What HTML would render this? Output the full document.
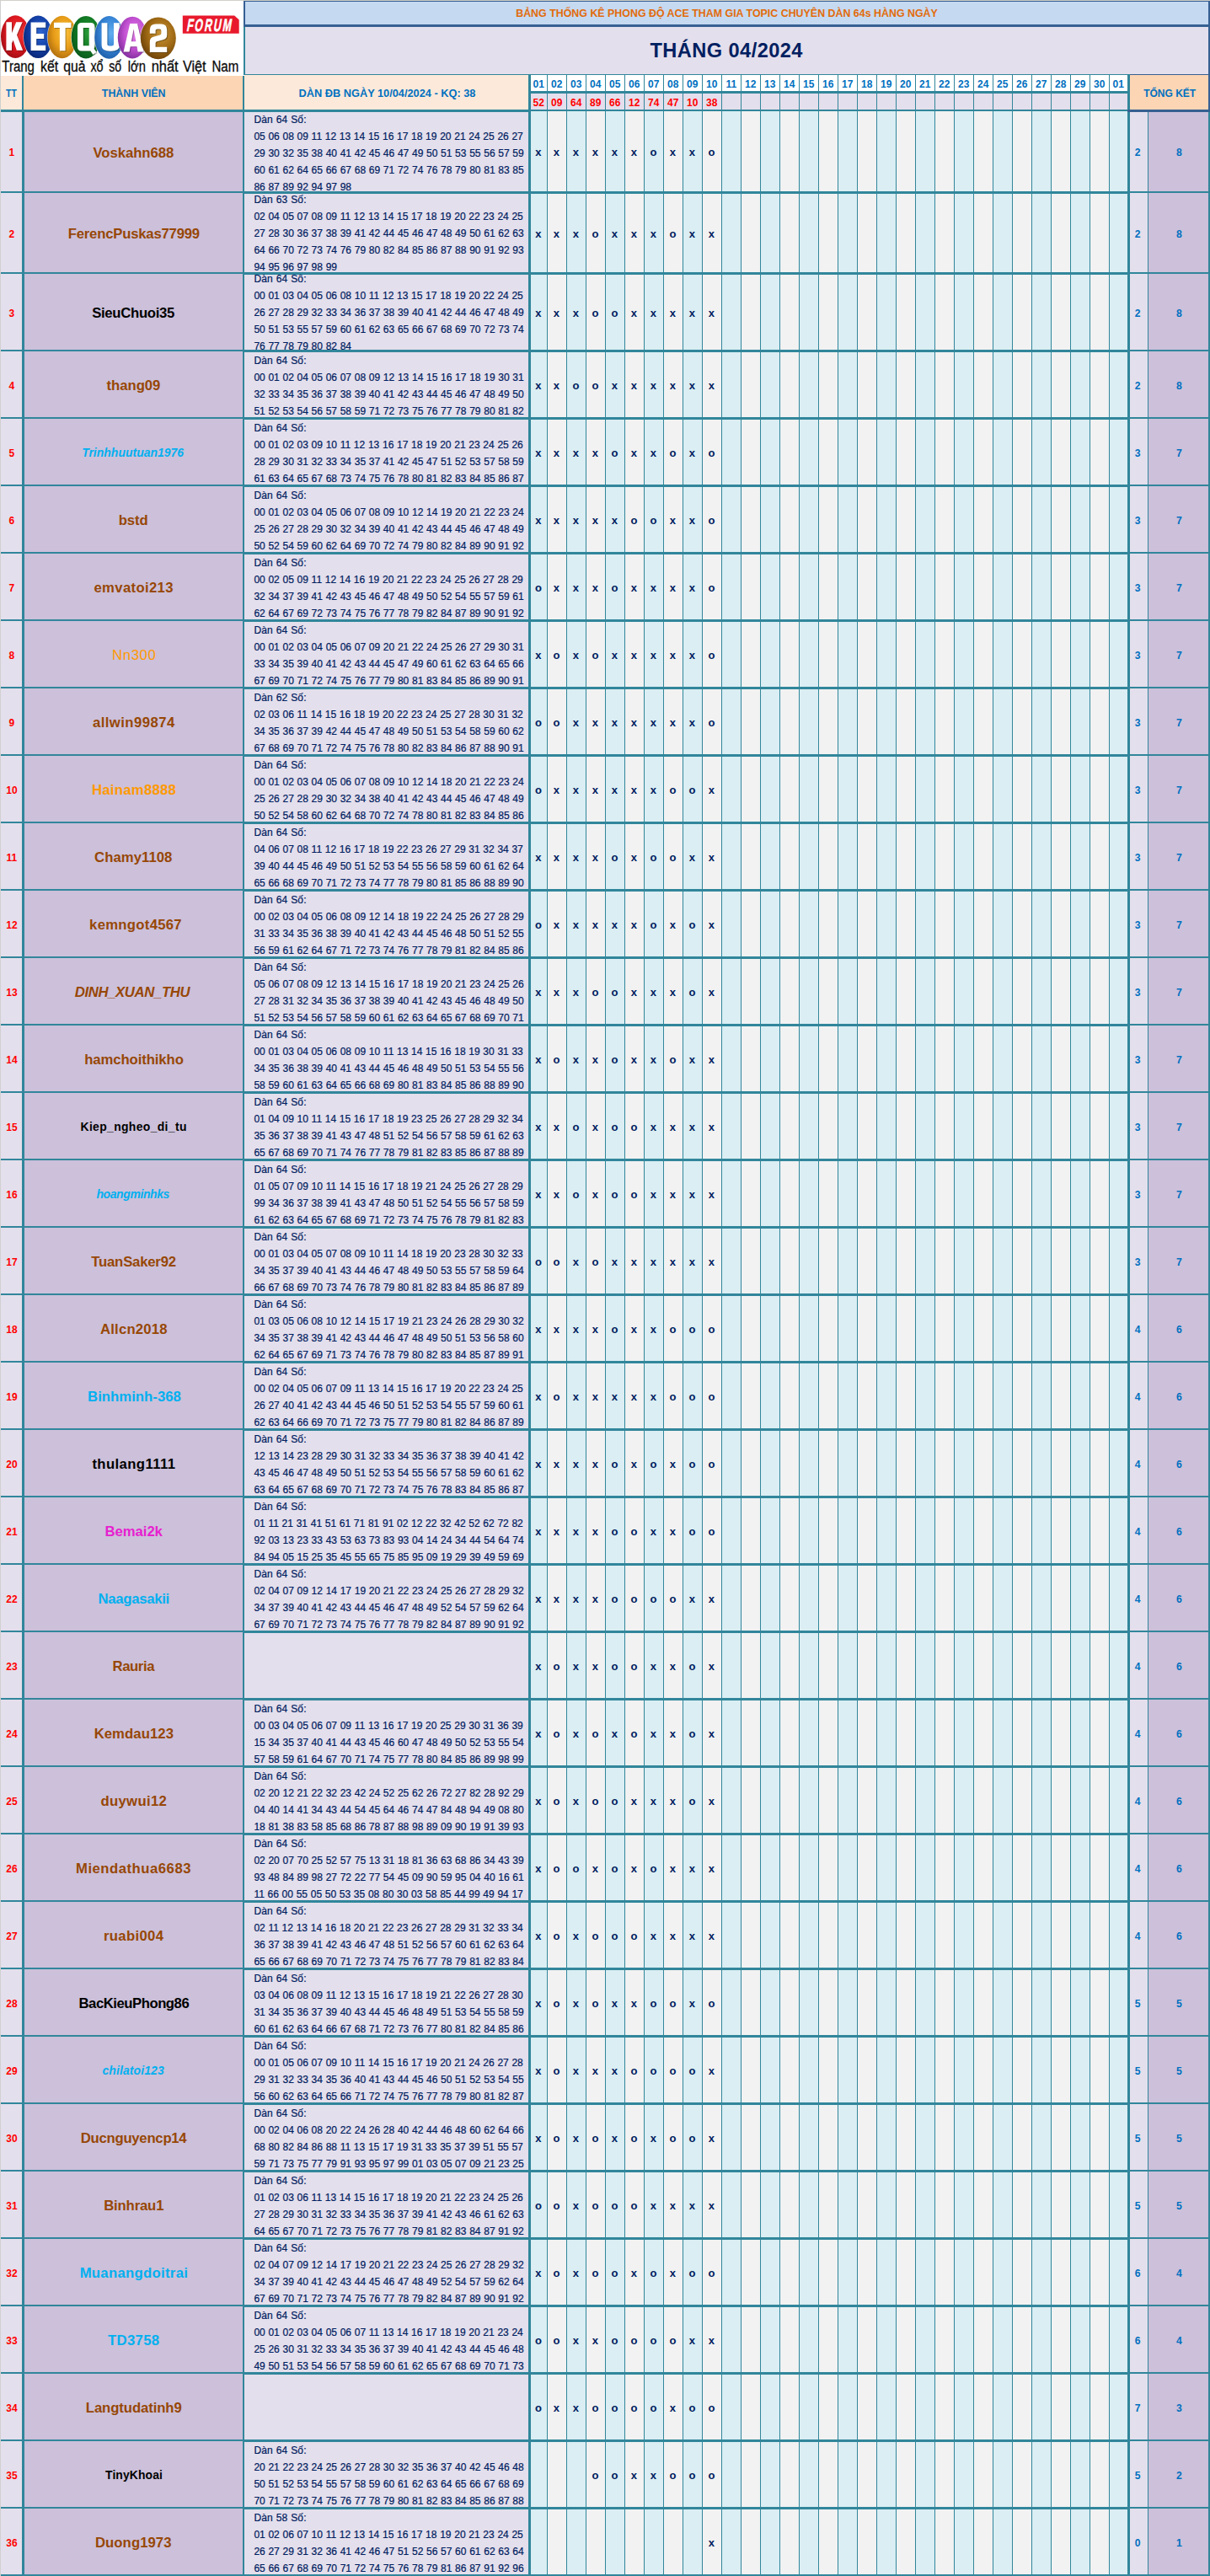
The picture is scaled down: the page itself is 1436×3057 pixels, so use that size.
<!DOCTYPE html><html><head><meta charset="utf-8"><title>Bang thong ke</title><style>

html,body{margin:0;padding:0;background:#fff;}
body{width:1436px;height:3057px;position:relative;overflow:hidden;font-family:"Liberation Sans",sans-serif;}
#pg{position:absolute;left:0;top:0;width:1436px;height:3057px;overflow:hidden;}
#pg div{position:absolute;}
.t{text-align:center;white-space:nowrap;}
.b{font-weight:bold;}
.i{font-style:italic;}
.nums{white-space:pre;text-align:left;font-size:12px;line-height:20px;color:#002060;word-spacing:0.37px;-webkit-text-stroke:0.22px #002060;}
.clip{overflow:hidden;}
.mk{font-weight:bold;font-size:13px;line-height:20px;color:#002060;text-align:center;width:22px;}
.rn{font-weight:bold;font-size:12px;line-height:20px;color:#ff0000;text-align:center;width:25px;left:1px;}
.cnt{font-size:12px;line-height:20px;color:#0070c0;text-align:center;}
svg{position:absolute;}

</style></head><body><div id="pg">
<div style="left:0px;top:0px;width:1px;height:3057px;background:#d0d0d0;"></div>
<div style="left:0px;top:0px;width:1436px;height:1px;background:#d2d0ca;"></div>
<div style="left:291px;top:2px;width:1143px;height:27px;background:#c5d9f1;"></div>
<div style="left:291px;top:32px;width:1143px;height:56px;background:#e4dfec;"></div>
<div style="left:1px;top:90px;width:25px;height:40px;background:#fde9d9;"></div>
<div style="left:28px;top:90px;width:260px;height:40px;background:#fcd5b4;"></div>
<div style="left:290px;top:89px;width:337px;height:41px;background:#fde9d9;"></div>
<div style="left:630px;top:89px;width:708px;height:19px;background:#ffffff;"></div>
<div style="left:630px;top:111px;width:708px;height:19px;background:#e4dfec;"></div>
<div style="left:1341px;top:89px;width:93px;height:41px;background:#fcd5b4;"></div>
<div style="left:1px;top:133px;width:25px;height:2924px;background:#e4dfec;"></div>
<div style="left:29px;top:133px;width:259px;height:2924px;background:#ccc0da;"></div>
<div style="left:290px;top:133px;width:337px;height:2924px;background:#e4dfec;"></div>
<div style="left:630px;top:132px;width:19px;height:2925px;background:#daeef3;"></div>
<div style="left:650px;top:132px;width:22px;height:2925px;background:#f2f2f2;"></div>
<div style="left:673px;top:132px;width:22px;height:2925px;background:#daeef3;"></div>
<div style="left:696px;top:132px;width:22px;height:2925px;background:#f2f2f2;"></div>
<div style="left:719px;top:132px;width:22px;height:2925px;background:#daeef3;"></div>
<div style="left:742px;top:132px;width:22px;height:2925px;background:#f2f2f2;"></div>
<div style="left:765px;top:132px;width:22px;height:2925px;background:#daeef3;"></div>
<div style="left:788px;top:132px;width:22px;height:2925px;background:#f2f2f2;"></div>
<div style="left:811px;top:132px;width:22px;height:2925px;background:#daeef3;"></div>
<div style="left:834px;top:132px;width:22px;height:2925px;background:#f2f2f2;"></div>
<div style="left:857px;top:132px;width:22px;height:2925px;background:#daeef3;"></div>
<div style="left:880px;top:132px;width:22px;height:2925px;background:#f2f2f2;"></div>
<div style="left:903px;top:132px;width:22px;height:2925px;background:#daeef3;"></div>
<div style="left:926px;top:132px;width:22px;height:2925px;background:#f2f2f2;"></div>
<div style="left:949px;top:132px;width:22px;height:2925px;background:#daeef3;"></div>
<div style="left:972px;top:132px;width:22px;height:2925px;background:#f2f2f2;"></div>
<div style="left:995px;top:132px;width:22px;height:2925px;background:#daeef3;"></div>
<div style="left:1018px;top:132px;width:22px;height:2925px;background:#f2f2f2;"></div>
<div style="left:1041px;top:132px;width:22px;height:2925px;background:#daeef3;"></div>
<div style="left:1064px;top:132px;width:22px;height:2925px;background:#f2f2f2;"></div>
<div style="left:1087px;top:132px;width:22px;height:2925px;background:#daeef3;"></div>
<div style="left:1110px;top:132px;width:22px;height:2925px;background:#f2f2f2;"></div>
<div style="left:1133px;top:132px;width:22px;height:2925px;background:#daeef3;"></div>
<div style="left:1156px;top:132px;width:22px;height:2925px;background:#f2f2f2;"></div>
<div style="left:1179px;top:132px;width:22px;height:2925px;background:#daeef3;"></div>
<div style="left:1202px;top:132px;width:22px;height:2925px;background:#f2f2f2;"></div>
<div style="left:1225px;top:132px;width:22px;height:2925px;background:#daeef3;"></div>
<div style="left:1248px;top:132px;width:22px;height:2925px;background:#f2f2f2;"></div>
<div style="left:1271px;top:132px;width:22px;height:2925px;background:#daeef3;"></div>
<div style="left:1294px;top:132px;width:22px;height:2925px;background:#f2f2f2;"></div>
<div style="left:1317px;top:132px;width:21px;height:2925px;background:#daeef3;"></div>
<div style="left:1341px;top:133px;width:21px;height:2924px;background:#e4dfec;"></div>
<div style="left:1363px;top:133px;width:71px;height:2924px;background:#ccc0da;"></div>
<div style="left:26px;top:90px;width:2px;height:43px;background:#31869b;"></div>
<div style="left:26px;top:133px;width:3px;height:2924px;background:#31869b;"></div>
<div style="left:288px;top:90px;width:2px;height:2967px;background:#31869b;"></div>
<div style="left:289px;top:32px;width:2px;height:57px;background:#31869b;"></div>
<div style="left:289px;top:1px;width:2px;height:31px;background:#366092;"></div>
<div style="left:627px;top:88px;width:3px;height:2969px;background:#31869b;"></div>
<div style="left:649px;top:89px;width:1px;height:2968px;background:#31869b;"></div>
<div style="left:672px;top:89px;width:1px;height:2968px;background:#31869b;"></div>
<div style="left:695px;top:89px;width:1px;height:2968px;background:#31869b;"></div>
<div style="left:718px;top:89px;width:1px;height:2968px;background:#31869b;"></div>
<div style="left:741px;top:89px;width:1px;height:2968px;background:#31869b;"></div>
<div style="left:764px;top:89px;width:1px;height:2968px;background:#31869b;"></div>
<div style="left:787px;top:89px;width:1px;height:2968px;background:#31869b;"></div>
<div style="left:810px;top:89px;width:1px;height:2968px;background:#31869b;"></div>
<div style="left:833px;top:89px;width:1px;height:2968px;background:#31869b;"></div>
<div style="left:856px;top:89px;width:1px;height:2968px;background:#31869b;"></div>
<div style="left:879px;top:89px;width:1px;height:2968px;background:#31869b;"></div>
<div style="left:902px;top:89px;width:1px;height:2968px;background:#31869b;"></div>
<div style="left:925px;top:89px;width:1px;height:2968px;background:#31869b;"></div>
<div style="left:948px;top:89px;width:1px;height:2968px;background:#31869b;"></div>
<div style="left:971px;top:89px;width:1px;height:2968px;background:#31869b;"></div>
<div style="left:994px;top:89px;width:1px;height:2968px;background:#31869b;"></div>
<div style="left:1017px;top:89px;width:1px;height:2968px;background:#31869b;"></div>
<div style="left:1040px;top:89px;width:1px;height:2968px;background:#31869b;"></div>
<div style="left:1063px;top:89px;width:1px;height:2968px;background:#31869b;"></div>
<div style="left:1086px;top:89px;width:1px;height:2968px;background:#31869b;"></div>
<div style="left:1109px;top:89px;width:1px;height:2968px;background:#31869b;"></div>
<div style="left:1132px;top:89px;width:1px;height:2968px;background:#31869b;"></div>
<div style="left:1155px;top:89px;width:1px;height:2968px;background:#31869b;"></div>
<div style="left:1178px;top:89px;width:1px;height:2968px;background:#31869b;"></div>
<div style="left:1201px;top:89px;width:1px;height:2968px;background:#31869b;"></div>
<div style="left:1224px;top:89px;width:1px;height:2968px;background:#31869b;"></div>
<div style="left:1247px;top:89px;width:1px;height:2968px;background:#31869b;"></div>
<div style="left:1270px;top:89px;width:1px;height:2968px;background:#31869b;"></div>
<div style="left:1293px;top:89px;width:1px;height:2968px;background:#31869b;"></div>
<div style="left:1316px;top:89px;width:1px;height:2968px;background:#31869b;"></div>
<div style="left:1338px;top:88px;width:3px;height:2969px;background:#31869b;"></div>
<div style="left:1362px;top:133px;width:1px;height:2924px;background:#31869b;"></div>
<div style="left:1434px;top:1px;width:2px;height:132px;background:#366092;"></div>
<div style="left:1434px;top:133px;width:2px;height:2924px;background:#31869b;"></div>
<div style="left:289px;top:1px;width:1147px;height:1px;background:#366092;"></div>
<div style="left:289px;top:29px;width:1147px;height:3px;background:#366092;"></div>
<div style="left:290px;top:88px;width:1051px;height:1px;background:#31869b;"></div>
<div style="left:1341px;top:88px;width:95px;height:1px;background:#366092;"></div>
<div style="left:630px;top:108px;width:711px;height:3px;background:#31869b;"></div>
<div style="left:1px;top:130px;width:629px;height:3px;background:#31869b;"></div>
<div style="left:630px;top:130px;width:708px;height:2px;background:#31869b;"></div>
<div style="left:1338px;top:130px;width:98px;height:3px;background:#366092;"></div>
<div class="t b" style="left:412.5px;top:5.5px;width:900px;font-size:12.42px;line-height:20px;color:#e26b0a;">BẢNG THỐNG KÊ PHONG ĐỘ ACE THAM GIA TOPIC CHUYÊN DÀN 64s HÀNG NGÀY</div>
<div class="t b" style="left:662.2px;top:45.02px;width:400px;font-size:23.6px;line-height:30px;color:#002060;letter-spacing:0.43px;">THÁNG 04/2024</div>
<div class="t b" style="left:1.1px;top:100.53px;width:25px;font-size:12.6px;line-height:20px;color:#0070c0;transform:scaleX(0.83);">TT</div>
<div class="t b" style="left:-41.3px;top:101px;width:400px;font-size:12.4px;line-height:20px;color:#0070c0;">THÀNH VIÊN</div>
<div class="t b" style="left:259.5px;top:100.87px;width:400px;font-size:12.78px;line-height:20px;color:#0070c0;">DÀN ĐB NGÀY 10/04/2024 - KQ: 38</div>
<div class="t b" style="left:1341.7px;top:100.74px;width:93px;font-size:12px;line-height:20px;color:#0070c0;">TỔNG KẾT</div>
<div class="t b" style="left:624.3px;top:90.24px;width:30px;font-size:12px;line-height:20px;color:#0070c0;">01</div>
<div class="t b" style="left:624.3px;top:111.64px;width:30px;font-size:12px;line-height:20px;color:#ff0000;">52</div>
<div class="t b" style="left:645.8px;top:90.24px;width:30px;font-size:12px;line-height:20px;color:#0070c0;">02</div>
<div class="t b" style="left:645.8px;top:111.64px;width:30px;font-size:12px;line-height:20px;color:#ff0000;">09</div>
<div class="t b" style="left:668.8px;top:90.24px;width:30px;font-size:12px;line-height:20px;color:#0070c0;">03</div>
<div class="t b" style="left:668.8px;top:111.64px;width:30px;font-size:12px;line-height:20px;color:#ff0000;">64</div>
<div class="t b" style="left:691.8px;top:90.24px;width:30px;font-size:12px;line-height:20px;color:#0070c0;">04</div>
<div class="t b" style="left:691.8px;top:111.64px;width:30px;font-size:12px;line-height:20px;color:#ff0000;">89</div>
<div class="t b" style="left:714.8px;top:90.24px;width:30px;font-size:12px;line-height:20px;color:#0070c0;">05</div>
<div class="t b" style="left:714.8px;top:111.64px;width:30px;font-size:12px;line-height:20px;color:#ff0000;">66</div>
<div class="t b" style="left:737.8px;top:90.24px;width:30px;font-size:12px;line-height:20px;color:#0070c0;">06</div>
<div class="t b" style="left:737.8px;top:111.64px;width:30px;font-size:12px;line-height:20px;color:#ff0000;">12</div>
<div class="t b" style="left:760.8px;top:90.24px;width:30px;font-size:12px;line-height:20px;color:#0070c0;">07</div>
<div class="t b" style="left:760.8px;top:111.64px;width:30px;font-size:12px;line-height:20px;color:#ff0000;">74</div>
<div class="t b" style="left:783.8px;top:90.24px;width:30px;font-size:12px;line-height:20px;color:#0070c0;">08</div>
<div class="t b" style="left:783.8px;top:111.64px;width:30px;font-size:12px;line-height:20px;color:#ff0000;">47</div>
<div class="t b" style="left:806.8px;top:90.24px;width:30px;font-size:12px;line-height:20px;color:#0070c0;">09</div>
<div class="t b" style="left:806.8px;top:111.64px;width:30px;font-size:12px;line-height:20px;color:#ff0000;">10</div>
<div class="t b" style="left:829.8px;top:90.24px;width:30px;font-size:12px;line-height:20px;color:#0070c0;">10</div>
<div class="t b" style="left:829.8px;top:111.64px;width:30px;font-size:12px;line-height:20px;color:#ff0000;">38</div>
<div class="t b" style="left:852.8px;top:90.24px;width:30px;font-size:12px;line-height:20px;color:#0070c0;">11</div>
<div class="t b" style="left:875.8px;top:90.24px;width:30px;font-size:12px;line-height:20px;color:#0070c0;">12</div>
<div class="t b" style="left:898.8px;top:90.24px;width:30px;font-size:12px;line-height:20px;color:#0070c0;">13</div>
<div class="t b" style="left:921.8px;top:90.24px;width:30px;font-size:12px;line-height:20px;color:#0070c0;">14</div>
<div class="t b" style="left:944.8px;top:90.24px;width:30px;font-size:12px;line-height:20px;color:#0070c0;">15</div>
<div class="t b" style="left:967.8px;top:90.24px;width:30px;font-size:12px;line-height:20px;color:#0070c0;">16</div>
<div class="t b" style="left:990.8px;top:90.24px;width:30px;font-size:12px;line-height:20px;color:#0070c0;">17</div>
<div class="t b" style="left:1013.8px;top:90.24px;width:30px;font-size:12px;line-height:20px;color:#0070c0;">18</div>
<div class="t b" style="left:1036.8px;top:90.24px;width:30px;font-size:12px;line-height:20px;color:#0070c0;">19</div>
<div class="t b" style="left:1059.8px;top:90.24px;width:30px;font-size:12px;line-height:20px;color:#0070c0;">20</div>
<div class="t b" style="left:1082.8px;top:90.24px;width:30px;font-size:12px;line-height:20px;color:#0070c0;">21</div>
<div class="t b" style="left:1105.8px;top:90.24px;width:30px;font-size:12px;line-height:20px;color:#0070c0;">22</div>
<div class="t b" style="left:1128.8px;top:90.24px;width:30px;font-size:12px;line-height:20px;color:#0070c0;">23</div>
<div class="t b" style="left:1151.8px;top:90.24px;width:30px;font-size:12px;line-height:20px;color:#0070c0;">24</div>
<div class="t b" style="left:1174.8px;top:90.24px;width:30px;font-size:12px;line-height:20px;color:#0070c0;">25</div>
<div class="t b" style="left:1197.8px;top:90.24px;width:30px;font-size:12px;line-height:20px;color:#0070c0;">26</div>
<div class="t b" style="left:1220.8px;top:90.24px;width:30px;font-size:12px;line-height:20px;color:#0070c0;">27</div>
<div class="t b" style="left:1243.8px;top:90.24px;width:30px;font-size:12px;line-height:20px;color:#0070c0;">28</div>
<div class="t b" style="left:1266.8px;top:90.24px;width:30px;font-size:12px;line-height:20px;color:#0070c0;">29</div>
<div class="t b" style="left:1289.8px;top:90.24px;width:30px;font-size:12px;line-height:20px;color:#0070c0;">30</div>
<div class="t b" style="left:1312.3px;top:90.24px;width:30px;font-size:12px;line-height:20px;color:#0070c0;">01</div>
<div class="t b" style="left:1.4px;top:170.74px;width:25px;font-size:12px;line-height:20px;color:#ff0000;">1</div>
<div class="t b" style="left:29.38px;top:169.51px;width:258px;font-size:16.7px;line-height:24px;color:#974706;letter-spacing:-0.044px;">Voskahn688</div>
<div class="clip" style="left:290px;top:133px;width:337px;height:94px;"><div class="nums" style="left:11.4px;top:-1.16px;"><span style="letter-spacing:0.15px">Dàn 64 Số:</span>
05 06 08 09 11 12 13 14 15 16 17 18 19 20 21 24 25 26 27
29 30 32 35 38 40 41 42 45 46 47 49 50 51 53 55 56 57 59
60 61 62 64 65 66 67 68 69 71 72 74 76 78 79 80 81 83 85
86 87 89 92 94 97 98</div></div>
<div class="t b" style="left:627.9px;top:170.7px;width:22px;font-size:13px;line-height:20px;color:#002060;">x</div>
<div class="t b" style="left:649.4px;top:170.7px;width:22px;font-size:13px;line-height:20px;color:#002060;">x</div>
<div class="t b" style="left:672.4px;top:170.7px;width:22px;font-size:13px;line-height:20px;color:#002060;">x</div>
<div class="t b" style="left:695.4px;top:170.7px;width:22px;font-size:13px;line-height:20px;color:#002060;">x</div>
<div class="t b" style="left:718.4px;top:170.7px;width:22px;font-size:13px;line-height:20px;color:#002060;">x</div>
<div class="t b" style="left:741.4px;top:170.7px;width:22px;font-size:13px;line-height:20px;color:#002060;">x</div>
<div class="t b" style="left:764.4px;top:170.7px;width:22px;font-size:13px;line-height:20px;color:#002060;">o</div>
<div class="t b" style="left:787.4px;top:170.7px;width:22px;font-size:13px;line-height:20px;color:#002060;">x</div>
<div class="t b" style="left:810.4px;top:170.7px;width:22px;font-size:13px;line-height:20px;color:#002060;">x</div>
<div class="t b" style="left:833.4px;top:170.7px;width:22px;font-size:13px;line-height:20px;color:#002060;">o</div>
<div class="t b" style="left:1339.7px;top:170.67px;width:21px;font-size:12.2px;line-height:20px;color:#0070c0;">2</div>
<div class="t b" style="left:1369.4px;top:170.67px;width:60px;font-size:12.2px;line-height:20px;color:#0070c0;">8</div>
<div class="t b" style="left:1.4px;top:267.84px;width:25px;font-size:12px;line-height:20px;color:#ff0000;">2</div>
<div class="t b" style="left:29.8px;top:265.51px;width:258px;font-size:16.7px;line-height:24px;color:#974706;letter-spacing:-0.200px;">FerencPuskas77999</div>
<div class="clip" style="left:290px;top:229px;width:337px;height:94px;"><div class="nums" style="left:11.4px;top:-1.86px;"><span style="letter-spacing:0.15px">Dàn 63 Số:</span>
02 04 05 07 08 09 11 12 13 14 15 17 18 19 20 22 23 24 25
27 28 30 36 37 38 39 41 42 44 45 46 47 48 49 50 61 62 63
64 66 70 72 73 74 76 79 80 82 84 85 86 87 88 90 91 92 93
94 95 96 97 98 99</div></div>
<div class="t b" style="left:627.9px;top:267.8px;width:22px;font-size:13px;line-height:20px;color:#002060;">x</div>
<div class="t b" style="left:649.4px;top:267.8px;width:22px;font-size:13px;line-height:20px;color:#002060;">x</div>
<div class="t b" style="left:672.4px;top:267.8px;width:22px;font-size:13px;line-height:20px;color:#002060;">x</div>
<div class="t b" style="left:695.4px;top:267.8px;width:22px;font-size:13px;line-height:20px;color:#002060;">o</div>
<div class="t b" style="left:718.4px;top:267.8px;width:22px;font-size:13px;line-height:20px;color:#002060;">x</div>
<div class="t b" style="left:741.4px;top:267.8px;width:22px;font-size:13px;line-height:20px;color:#002060;">x</div>
<div class="t b" style="left:764.4px;top:267.8px;width:22px;font-size:13px;line-height:20px;color:#002060;">x</div>
<div class="t b" style="left:787.4px;top:267.8px;width:22px;font-size:13px;line-height:20px;color:#002060;">o</div>
<div class="t b" style="left:810.4px;top:267.8px;width:22px;font-size:13px;line-height:20px;color:#002060;">x</div>
<div class="t b" style="left:833.4px;top:267.8px;width:22px;font-size:13px;line-height:20px;color:#002060;">x</div>
<div class="t b" style="left:1339.7px;top:267.77px;width:21px;font-size:12.2px;line-height:20px;color:#0070c0;">2</div>
<div class="t b" style="left:1369.4px;top:267.77px;width:60px;font-size:12.2px;line-height:20px;color:#0070c0;">8</div>
<div class="t b" style="left:1.4px;top:361.84px;width:25px;font-size:12px;line-height:20px;color:#ff0000;">3</div>
<div class="t b" style="left:29.1px;top:359.51px;width:258px;font-size:16.7px;line-height:24px;color:#000000;letter-spacing:-0.290px;">SieuChuoi35</div>
<div class="clip" style="left:290px;top:325px;width:337px;height:90px;"><div class="nums" style="left:11.4px;top:-3.76px;"><span style="letter-spacing:0.15px">Dàn 64 Số:</span>
00 01 03 04 05 06 08 10 11 12 13 15 17 18 19 20 22 24 25
26 27 28 29 32 33 34 36 37 38 39 40 41 42 44 46 47 48 49
50 51 53 55 57 59 60 61 62 63 65 66 67 68 69 70 72 73 74
76 77 78 79 80 82 84</div></div>
<div class="t b" style="left:627.9px;top:361.8px;width:22px;font-size:13px;line-height:20px;color:#002060;">x</div>
<div class="t b" style="left:649.4px;top:361.8px;width:22px;font-size:13px;line-height:20px;color:#002060;">x</div>
<div class="t b" style="left:672.4px;top:361.8px;width:22px;font-size:13px;line-height:20px;color:#002060;">x</div>
<div class="t b" style="left:695.4px;top:361.8px;width:22px;font-size:13px;line-height:20px;color:#002060;">o</div>
<div class="t b" style="left:718.4px;top:361.8px;width:22px;font-size:13px;line-height:20px;color:#002060;">o</div>
<div class="t b" style="left:741.4px;top:361.8px;width:22px;font-size:13px;line-height:20px;color:#002060;">x</div>
<div class="t b" style="left:764.4px;top:361.8px;width:22px;font-size:13px;line-height:20px;color:#002060;">x</div>
<div class="t b" style="left:787.4px;top:361.8px;width:22px;font-size:13px;line-height:20px;color:#002060;">x</div>
<div class="t b" style="left:810.4px;top:361.8px;width:22px;font-size:13px;line-height:20px;color:#002060;">x</div>
<div class="t b" style="left:833.4px;top:361.8px;width:22px;font-size:13px;line-height:20px;color:#002060;">x</div>
<div class="t b" style="left:1339.7px;top:361.77px;width:21px;font-size:12.2px;line-height:20px;color:#0070c0;">2</div>
<div class="t b" style="left:1369.4px;top:361.77px;width:60px;font-size:12.2px;line-height:20px;color:#0070c0;">8</div>
<div class="t b" style="left:1.4px;top:447.84px;width:25px;font-size:12px;line-height:20px;color:#ff0000;">4</div>
<div class="t b" style="left:29.44px;top:445.51px;width:258px;font-size:16.7px;line-height:24px;color:#974706;letter-spacing:-0.017px;">thang09</div>
<div class="clip" style="left:290px;top:417px;width:337px;height:78px;"><div class="nums" style="left:11.4px;top:0.84px;"><span style="letter-spacing:0.15px">Dàn 64 Số:</span>
00 01 02 04 05 06 07 08 09 12 13 14 15 16 17 18 19 30 31
32 33 34 35 36 37 38 39 40 41 42 43 44 45 46 47 48 49 50
51 52 53 54 56 57 58 59 71 72 73 75 76 77 78 79 80 81 82</div></div>
<div class="t b" style="left:627.9px;top:447.8px;width:22px;font-size:13px;line-height:20px;color:#002060;">x</div>
<div class="t b" style="left:649.4px;top:447.8px;width:22px;font-size:13px;line-height:20px;color:#002060;">x</div>
<div class="t b" style="left:672.4px;top:447.8px;width:22px;font-size:13px;line-height:20px;color:#002060;">o</div>
<div class="t b" style="left:695.4px;top:447.8px;width:22px;font-size:13px;line-height:20px;color:#002060;">o</div>
<div class="t b" style="left:718.4px;top:447.8px;width:22px;font-size:13px;line-height:20px;color:#002060;">x</div>
<div class="t b" style="left:741.4px;top:447.8px;width:22px;font-size:13px;line-height:20px;color:#002060;">x</div>
<div class="t b" style="left:764.4px;top:447.8px;width:22px;font-size:13px;line-height:20px;color:#002060;">x</div>
<div class="t b" style="left:787.4px;top:447.8px;width:22px;font-size:13px;line-height:20px;color:#002060;">x</div>
<div class="t b" style="left:810.4px;top:447.8px;width:22px;font-size:13px;line-height:20px;color:#002060;">x</div>
<div class="t b" style="left:833.4px;top:447.8px;width:22px;font-size:13px;line-height:20px;color:#002060;">x</div>
<div class="t b" style="left:1339.7px;top:447.77px;width:21px;font-size:12.2px;line-height:20px;color:#0070c0;">2</div>
<div class="t b" style="left:1369.4px;top:447.77px;width:60px;font-size:12.2px;line-height:20px;color:#0070c0;">8</div>
<div class="t b" style="left:1.4px;top:527.84px;width:25px;font-size:12px;line-height:20px;color:#ff0000;">5</div>
<div class="t b i" style="left:28.63px;top:525.48px;width:258px;font-size:13.9px;line-height:24px;color:#00b0f0;letter-spacing:0.053px;">Trinhhuutuan1976</div>
<div class="clip" style="left:290px;top:497px;width:337px;height:78px;"><div class="nums" style="left:11.4px;top:0.84px;"><span style="letter-spacing:0.15px">Dàn 64 Số:</span>
00 01 02 03 09 10 11 12 13 16 17 18 19 20 21 23 24 25 26
28 29 30 31 32 33 34 35 37 41 42 45 47 51 52 53 57 58 59
61 63 64 65 67 68 73 74 75 76 78 80 81 82 83 84 85 86 87</div></div>
<div class="t b" style="left:627.9px;top:527.8px;width:22px;font-size:13px;line-height:20px;color:#002060;">x</div>
<div class="t b" style="left:649.4px;top:527.8px;width:22px;font-size:13px;line-height:20px;color:#002060;">x</div>
<div class="t b" style="left:672.4px;top:527.8px;width:22px;font-size:13px;line-height:20px;color:#002060;">x</div>
<div class="t b" style="left:695.4px;top:527.8px;width:22px;font-size:13px;line-height:20px;color:#002060;">x</div>
<div class="t b" style="left:718.4px;top:527.8px;width:22px;font-size:13px;line-height:20px;color:#002060;">o</div>
<div class="t b" style="left:741.4px;top:527.8px;width:22px;font-size:13px;line-height:20px;color:#002060;">x</div>
<div class="t b" style="left:764.4px;top:527.8px;width:22px;font-size:13px;line-height:20px;color:#002060;">x</div>
<div class="t b" style="left:787.4px;top:527.8px;width:22px;font-size:13px;line-height:20px;color:#002060;">o</div>
<div class="t b" style="left:810.4px;top:527.8px;width:22px;font-size:13px;line-height:20px;color:#002060;">x</div>
<div class="t b" style="left:833.4px;top:527.8px;width:22px;font-size:13px;line-height:20px;color:#002060;">o</div>
<div class="t b" style="left:1339.7px;top:527.77px;width:21px;font-size:12.2px;line-height:20px;color:#0070c0;">3</div>
<div class="t b" style="left:1369.4px;top:527.77px;width:60px;font-size:12.2px;line-height:20px;color:#0070c0;">7</div>
<div class="t b" style="left:1.4px;top:607.84px;width:25px;font-size:12px;line-height:20px;color:#ff0000;">6</div>
<div class="t b" style="left:29.23px;top:605.51px;width:258px;font-size:16.7px;line-height:24px;color:#974706;letter-spacing:-0.033px;">bstd</div>
<div class="clip" style="left:290px;top:577px;width:337px;height:78px;"><div class="nums" style="left:11.4px;top:0.84px;"><span style="letter-spacing:0.15px">Dàn 64 Số:</span>
00 01 02 03 04 05 06 07 08 09 10 12 14 19 20 21 22 23 24
25 26 27 28 29 30 32 34 39 40 41 42 43 44 45 46 47 48 49
50 52 54 59 60 62 64 69 70 72 74 79 80 82 84 89 90 91 92</div></div>
<div class="t b" style="left:627.9px;top:607.8px;width:22px;font-size:13px;line-height:20px;color:#002060;">x</div>
<div class="t b" style="left:649.4px;top:607.8px;width:22px;font-size:13px;line-height:20px;color:#002060;">x</div>
<div class="t b" style="left:672.4px;top:607.8px;width:22px;font-size:13px;line-height:20px;color:#002060;">x</div>
<div class="t b" style="left:695.4px;top:607.8px;width:22px;font-size:13px;line-height:20px;color:#002060;">x</div>
<div class="t b" style="left:718.4px;top:607.8px;width:22px;font-size:13px;line-height:20px;color:#002060;">x</div>
<div class="t b" style="left:741.4px;top:607.8px;width:22px;font-size:13px;line-height:20px;color:#002060;">o</div>
<div class="t b" style="left:764.4px;top:607.8px;width:22px;font-size:13px;line-height:20px;color:#002060;">o</div>
<div class="t b" style="left:787.4px;top:607.8px;width:22px;font-size:13px;line-height:20px;color:#002060;">x</div>
<div class="t b" style="left:810.4px;top:607.8px;width:22px;font-size:13px;line-height:20px;color:#002060;">x</div>
<div class="t b" style="left:833.4px;top:607.8px;width:22px;font-size:13px;line-height:20px;color:#002060;">o</div>
<div class="t b" style="left:1339.7px;top:607.77px;width:21px;font-size:12.2px;line-height:20px;color:#0070c0;">3</div>
<div class="t b" style="left:1369.4px;top:607.77px;width:60px;font-size:12.2px;line-height:20px;color:#0070c0;">7</div>
<div class="t b" style="left:1.4px;top:687.84px;width:25px;font-size:12px;line-height:20px;color:#ff0000;">7</div>
<div class="t b" style="left:29.68px;top:685.51px;width:258px;font-size:16.7px;line-height:24px;color:#974706;letter-spacing:0.356px;">emvatoi213</div>
<div class="clip" style="left:290px;top:657px;width:337px;height:78px;"><div class="nums" style="left:11.4px;top:0.84px;"><span style="letter-spacing:0.15px">Dàn 64 Số:</span>
00 02 05 09 11 12 14 16 19 20 21 22 23 24 25 26 27 28 29
32 34 37 39 41 42 43 45 46 47 48 49 50 52 54 55 57 59 61
62 64 67 69 72 73 74 75 76 77 78 79 82 84 87 89 90 91 92</div></div>
<div class="t b" style="left:627.9px;top:687.8px;width:22px;font-size:13px;line-height:20px;color:#002060;">o</div>
<div class="t b" style="left:649.4px;top:687.8px;width:22px;font-size:13px;line-height:20px;color:#002060;">x</div>
<div class="t b" style="left:672.4px;top:687.8px;width:22px;font-size:13px;line-height:20px;color:#002060;">x</div>
<div class="t b" style="left:695.4px;top:687.8px;width:22px;font-size:13px;line-height:20px;color:#002060;">x</div>
<div class="t b" style="left:718.4px;top:687.8px;width:22px;font-size:13px;line-height:20px;color:#002060;">o</div>
<div class="t b" style="left:741.4px;top:687.8px;width:22px;font-size:13px;line-height:20px;color:#002060;">x</div>
<div class="t b" style="left:764.4px;top:687.8px;width:22px;font-size:13px;line-height:20px;color:#002060;">x</div>
<div class="t b" style="left:787.4px;top:687.8px;width:22px;font-size:13px;line-height:20px;color:#002060;">x</div>
<div class="t b" style="left:810.4px;top:687.8px;width:22px;font-size:13px;line-height:20px;color:#002060;">x</div>
<div class="t b" style="left:833.4px;top:687.8px;width:22px;font-size:13px;line-height:20px;color:#002060;">o</div>
<div class="t b" style="left:1339.7px;top:687.77px;width:21px;font-size:12.2px;line-height:20px;color:#0070c0;">3</div>
<div class="t b" style="left:1369.4px;top:687.77px;width:60px;font-size:12.2px;line-height:20px;color:#0070c0;">7</div>
<div class="t b" style="left:1.4px;top:767.84px;width:25px;font-size:12px;line-height:20px;color:#ff0000;">8</div>
<div class="t " style="left:30.25px;top:765.51px;width:258px;font-size:16.7px;line-height:24px;color:#ff9900;letter-spacing:0.700px;">Nn300</div>
<div class="clip" style="left:290px;top:737px;width:337px;height:78px;"><div class="nums" style="left:11.4px;top:0.84px;"><span style="letter-spacing:0.15px">Dàn 64 Số:</span>
00 01 02 03 04 05 06 07 09 20 21 22 24 25 26 27 29 30 31
33 34 35 39 40 41 42 43 44 45 47 49 60 61 62 63 64 65 66
67 69 70 71 72 74 75 76 77 79 80 81 83 84 85 86 89 90 91</div></div>
<div class="t b" style="left:627.9px;top:767.8px;width:22px;font-size:13px;line-height:20px;color:#002060;">x</div>
<div class="t b" style="left:649.4px;top:767.8px;width:22px;font-size:13px;line-height:20px;color:#002060;">o</div>
<div class="t b" style="left:672.4px;top:767.8px;width:22px;font-size:13px;line-height:20px;color:#002060;">x</div>
<div class="t b" style="left:695.4px;top:767.8px;width:22px;font-size:13px;line-height:20px;color:#002060;">o</div>
<div class="t b" style="left:718.4px;top:767.8px;width:22px;font-size:13px;line-height:20px;color:#002060;">x</div>
<div class="t b" style="left:741.4px;top:767.8px;width:22px;font-size:13px;line-height:20px;color:#002060;">x</div>
<div class="t b" style="left:764.4px;top:767.8px;width:22px;font-size:13px;line-height:20px;color:#002060;">x</div>
<div class="t b" style="left:787.4px;top:767.8px;width:22px;font-size:13px;line-height:20px;color:#002060;">x</div>
<div class="t b" style="left:810.4px;top:767.8px;width:22px;font-size:13px;line-height:20px;color:#002060;">x</div>
<div class="t b" style="left:833.4px;top:767.8px;width:22px;font-size:13px;line-height:20px;color:#002060;">o</div>
<div class="t b" style="left:1339.7px;top:767.77px;width:21px;font-size:12.2px;line-height:20px;color:#0070c0;">3</div>
<div class="t b" style="left:1369.4px;top:767.77px;width:60px;font-size:12.2px;line-height:20px;color:#0070c0;">7</div>
<div class="t b" style="left:1.4px;top:847.84px;width:25px;font-size:12px;line-height:20px;color:#ff0000;">9</div>
<div class="t b" style="left:29.82px;top:845.51px;width:258px;font-size:16.7px;line-height:24px;color:#974706;letter-spacing:0.440px;">allwin99874</div>
<div class="clip" style="left:290px;top:817px;width:337px;height:78px;"><div class="nums" style="left:11.4px;top:0.84px;"><span style="letter-spacing:0.15px">Dàn 62 Số:</span>
02 03 06 11 14 15 16 18 19 20 22 23 24 25 27 28 30 31 32
34 35 36 37 39 42 44 45 47 48 49 50 51 53 54 58 59 60 62
67 68 69 70 71 72 74 75 76 78 80 82 83 84 86 87 88 90 91</div></div>
<div class="t b" style="left:627.9px;top:847.8px;width:22px;font-size:13px;line-height:20px;color:#002060;">o</div>
<div class="t b" style="left:649.4px;top:847.8px;width:22px;font-size:13px;line-height:20px;color:#002060;">o</div>
<div class="t b" style="left:672.4px;top:847.8px;width:22px;font-size:13px;line-height:20px;color:#002060;">x</div>
<div class="t b" style="left:695.4px;top:847.8px;width:22px;font-size:13px;line-height:20px;color:#002060;">x</div>
<div class="t b" style="left:718.4px;top:847.8px;width:22px;font-size:13px;line-height:20px;color:#002060;">x</div>
<div class="t b" style="left:741.4px;top:847.8px;width:22px;font-size:13px;line-height:20px;color:#002060;">x</div>
<div class="t b" style="left:764.4px;top:847.8px;width:22px;font-size:13px;line-height:20px;color:#002060;">x</div>
<div class="t b" style="left:787.4px;top:847.8px;width:22px;font-size:13px;line-height:20px;color:#002060;">x</div>
<div class="t b" style="left:810.4px;top:847.8px;width:22px;font-size:13px;line-height:20px;color:#002060;">x</div>
<div class="t b" style="left:833.4px;top:847.8px;width:22px;font-size:13px;line-height:20px;color:#002060;">o</div>
<div class="t b" style="left:1339.7px;top:847.77px;width:21px;font-size:12.2px;line-height:20px;color:#0070c0;">3</div>
<div class="t b" style="left:1369.4px;top:847.77px;width:60px;font-size:12.2px;line-height:20px;color:#0070c0;">7</div>
<div class="t b" style="left:1.4px;top:927.84px;width:25px;font-size:12px;line-height:20px;color:#ff0000;">10</div>
<div class="t b" style="left:30.09px;top:925.51px;width:258px;font-size:16.7px;line-height:24px;color:#ff9900;letter-spacing:0.278px;">Hainam8888</div>
<div class="clip" style="left:290px;top:897px;width:337px;height:78px;"><div class="nums" style="left:11.4px;top:0.84px;"><span style="letter-spacing:0.15px">Dàn 64 Số:</span>
00 01 02 03 04 05 06 07 08 09 10 12 14 18 20 21 22 23 24
25 26 27 28 29 30 32 34 38 40 41 42 43 44 45 46 47 48 49
50 52 54 58 60 62 64 68 70 72 74 78 80 81 82 83 84 85 86</div></div>
<div class="t b" style="left:627.9px;top:927.8px;width:22px;font-size:13px;line-height:20px;color:#002060;">o</div>
<div class="t b" style="left:649.4px;top:927.8px;width:22px;font-size:13px;line-height:20px;color:#002060;">x</div>
<div class="t b" style="left:672.4px;top:927.8px;width:22px;font-size:13px;line-height:20px;color:#002060;">x</div>
<div class="t b" style="left:695.4px;top:927.8px;width:22px;font-size:13px;line-height:20px;color:#002060;">x</div>
<div class="t b" style="left:718.4px;top:927.8px;width:22px;font-size:13px;line-height:20px;color:#002060;">x</div>
<div class="t b" style="left:741.4px;top:927.8px;width:22px;font-size:13px;line-height:20px;color:#002060;">x</div>
<div class="t b" style="left:764.4px;top:927.8px;width:22px;font-size:13px;line-height:20px;color:#002060;">x</div>
<div class="t b" style="left:787.4px;top:927.8px;width:22px;font-size:13px;line-height:20px;color:#002060;">o</div>
<div class="t b" style="left:810.4px;top:927.8px;width:22px;font-size:13px;line-height:20px;color:#002060;">o</div>
<div class="t b" style="left:833.4px;top:927.8px;width:22px;font-size:13px;line-height:20px;color:#002060;">x</div>
<div class="t b" style="left:1339.7px;top:927.77px;width:21px;font-size:12.2px;line-height:20px;color:#0070c0;">3</div>
<div class="t b" style="left:1369.4px;top:927.77px;width:60px;font-size:12.2px;line-height:20px;color:#0070c0;">7</div>
<div class="t b" style="left:1.4px;top:1007.84px;width:25px;font-size:12px;line-height:20px;color:#ff0000;">11</div>
<div class="t b" style="left:29.28px;top:1005.51px;width:258px;font-size:16.7px;line-height:24px;color:#974706;letter-spacing:0.062px;">Chamy1108</div>
<div class="clip" style="left:290px;top:977px;width:337px;height:78px;"><div class="nums" style="left:11.4px;top:0.84px;"><span style="letter-spacing:0.15px">Dàn 64 Số:</span>
04 06 07 08 11 12 16 17 18 19 22 23 26 27 29 31 32 34 37
39 40 44 45 46 49 50 51 52 53 54 55 56 58 59 60 61 62 64
65 66 68 69 70 71 72 73 74 77 78 79 80 81 85 86 88 89 90</div></div>
<div class="t b" style="left:627.9px;top:1007.8px;width:22px;font-size:13px;line-height:20px;color:#002060;">x</div>
<div class="t b" style="left:649.4px;top:1007.8px;width:22px;font-size:13px;line-height:20px;color:#002060;">x</div>
<div class="t b" style="left:672.4px;top:1007.8px;width:22px;font-size:13px;line-height:20px;color:#002060;">x</div>
<div class="t b" style="left:695.4px;top:1007.8px;width:22px;font-size:13px;line-height:20px;color:#002060;">x</div>
<div class="t b" style="left:718.4px;top:1007.8px;width:22px;font-size:13px;line-height:20px;color:#002060;">o</div>
<div class="t b" style="left:741.4px;top:1007.8px;width:22px;font-size:13px;line-height:20px;color:#002060;">x</div>
<div class="t b" style="left:764.4px;top:1007.8px;width:22px;font-size:13px;line-height:20px;color:#002060;">o</div>
<div class="t b" style="left:787.4px;top:1007.8px;width:22px;font-size:13px;line-height:20px;color:#002060;">o</div>
<div class="t b" style="left:810.4px;top:1007.8px;width:22px;font-size:13px;line-height:20px;color:#002060;">x</div>
<div class="t b" style="left:833.4px;top:1007.8px;width:22px;font-size:13px;line-height:20px;color:#002060;">x</div>
<div class="t b" style="left:1339.7px;top:1007.77px;width:21px;font-size:12.2px;line-height:20px;color:#0070c0;">3</div>
<div class="t b" style="left:1369.4px;top:1007.77px;width:60px;font-size:12.2px;line-height:20px;color:#0070c0;">7</div>
<div class="t b" style="left:1.4px;top:1087.84px;width:25px;font-size:12px;line-height:20px;color:#ff0000;">12</div>
<div class="t b" style="left:32px;top:1085.51px;width:258px;font-size:16.7px;line-height:24px;color:#974706;letter-spacing:0.290px;">kemngot4567</div>
<div class="clip" style="left:290px;top:1057px;width:337px;height:78px;"><div class="nums" style="left:11.4px;top:0.84px;"><span style="letter-spacing:0.15px">Dàn 64 Số:</span>
00 02 03 04 05 06 08 09 12 14 18 19 22 24 25 26 27 28 29
31 33 34 35 36 38 39 40 41 42 43 44 45 46 48 50 51 52 55
56 59 61 62 64 67 71 72 73 74 76 77 78 79 81 82 84 85 86</div></div>
<div class="t b" style="left:627.9px;top:1087.8px;width:22px;font-size:13px;line-height:20px;color:#002060;">o</div>
<div class="t b" style="left:649.4px;top:1087.8px;width:22px;font-size:13px;line-height:20px;color:#002060;">x</div>
<div class="t b" style="left:672.4px;top:1087.8px;width:22px;font-size:13px;line-height:20px;color:#002060;">x</div>
<div class="t b" style="left:695.4px;top:1087.8px;width:22px;font-size:13px;line-height:20px;color:#002060;">x</div>
<div class="t b" style="left:718.4px;top:1087.8px;width:22px;font-size:13px;line-height:20px;color:#002060;">x</div>
<div class="t b" style="left:741.4px;top:1087.8px;width:22px;font-size:13px;line-height:20px;color:#002060;">x</div>
<div class="t b" style="left:764.4px;top:1087.8px;width:22px;font-size:13px;line-height:20px;color:#002060;">o</div>
<div class="t b" style="left:787.4px;top:1087.8px;width:22px;font-size:13px;line-height:20px;color:#002060;">x</div>
<div class="t b" style="left:810.4px;top:1087.8px;width:22px;font-size:13px;line-height:20px;color:#002060;">o</div>
<div class="t b" style="left:833.4px;top:1087.8px;width:22px;font-size:13px;line-height:20px;color:#002060;">x</div>
<div class="t b" style="left:1339.7px;top:1087.77px;width:21px;font-size:12.2px;line-height:20px;color:#0070c0;">3</div>
<div class="t b" style="left:1369.4px;top:1087.77px;width:60px;font-size:12.2px;line-height:20px;color:#0070c0;">7</div>
<div class="t b" style="left:1.4px;top:1167.84px;width:25px;font-size:12px;line-height:20px;color:#ff0000;">13</div>
<div class="t b i" style="left:27.98px;top:1165.51px;width:258px;font-size:16.7px;line-height:24px;color:#974706;letter-spacing:-0.342px;">DINH_XUAN_THU</div>
<div class="clip" style="left:290px;top:1137px;width:337px;height:78px;"><div class="nums" style="left:11.4px;top:0.84px;"><span style="letter-spacing:0.15px">Dàn 64 Số:</span>
05 06 07 08 09 12 13 14 15 16 17 18 19 20 21 23 24 25 26
27 28 31 32 34 35 36 37 38 39 40 41 42 43 45 46 48 49 50
51 52 53 54 56 57 58 59 60 61 62 63 64 65 67 68 69 70 71</div></div>
<div class="t b" style="left:627.9px;top:1167.8px;width:22px;font-size:13px;line-height:20px;color:#002060;">x</div>
<div class="t b" style="left:649.4px;top:1167.8px;width:22px;font-size:13px;line-height:20px;color:#002060;">x</div>
<div class="t b" style="left:672.4px;top:1167.8px;width:22px;font-size:13px;line-height:20px;color:#002060;">x</div>
<div class="t b" style="left:695.4px;top:1167.8px;width:22px;font-size:13px;line-height:20px;color:#002060;">o</div>
<div class="t b" style="left:718.4px;top:1167.8px;width:22px;font-size:13px;line-height:20px;color:#002060;">o</div>
<div class="t b" style="left:741.4px;top:1167.8px;width:22px;font-size:13px;line-height:20px;color:#002060;">x</div>
<div class="t b" style="left:764.4px;top:1167.8px;width:22px;font-size:13px;line-height:20px;color:#002060;">x</div>
<div class="t b" style="left:787.4px;top:1167.8px;width:22px;font-size:13px;line-height:20px;color:#002060;">x</div>
<div class="t b" style="left:810.4px;top:1167.8px;width:22px;font-size:13px;line-height:20px;color:#002060;">o</div>
<div class="t b" style="left:833.4px;top:1167.8px;width:22px;font-size:13px;line-height:20px;color:#002060;">x</div>
<div class="t b" style="left:1339.7px;top:1167.77px;width:21px;font-size:12.2px;line-height:20px;color:#0070c0;">3</div>
<div class="t b" style="left:1369.4px;top:1167.77px;width:60px;font-size:12.2px;line-height:20px;color:#0070c0;">7</div>
<div class="t b" style="left:1.4px;top:1247.84px;width:25px;font-size:12px;line-height:20px;color:#ff0000;">14</div>
<div class="t b" style="left:29.96px;top:1245.51px;width:258px;font-size:16.7px;line-height:24px;color:#974706;letter-spacing:-0.083px;">hamchoithikho</div>
<div class="clip" style="left:290px;top:1217px;width:337px;height:78px;"><div class="nums" style="left:11.4px;top:0.84px;"><span style="letter-spacing:0.15px">Dàn 64 Số:</span>
00 01 03 04 05 06 08 09 10 11 13 14 15 16 18 19 30 31 33
34 35 36 38 39 40 41 43 44 45 46 48 49 50 51 53 54 55 56
58 59 60 61 63 64 65 66 68 69 80 81 83 84 85 86 88 89 90</div></div>
<div class="t b" style="left:627.9px;top:1247.8px;width:22px;font-size:13px;line-height:20px;color:#002060;">x</div>
<div class="t b" style="left:649.4px;top:1247.8px;width:22px;font-size:13px;line-height:20px;color:#002060;">o</div>
<div class="t b" style="left:672.4px;top:1247.8px;width:22px;font-size:13px;line-height:20px;color:#002060;">x</div>
<div class="t b" style="left:695.4px;top:1247.8px;width:22px;font-size:13px;line-height:20px;color:#002060;">x</div>
<div class="t b" style="left:718.4px;top:1247.8px;width:22px;font-size:13px;line-height:20px;color:#002060;">o</div>
<div class="t b" style="left:741.4px;top:1247.8px;width:22px;font-size:13px;line-height:20px;color:#002060;">x</div>
<div class="t b" style="left:764.4px;top:1247.8px;width:22px;font-size:13px;line-height:20px;color:#002060;">x</div>
<div class="t b" style="left:787.4px;top:1247.8px;width:22px;font-size:13px;line-height:20px;color:#002060;">o</div>
<div class="t b" style="left:810.4px;top:1247.8px;width:22px;font-size:13px;line-height:20px;color:#002060;">x</div>
<div class="t b" style="left:833.4px;top:1247.8px;width:22px;font-size:13px;line-height:20px;color:#002060;">x</div>
<div class="t b" style="left:1339.7px;top:1247.77px;width:21px;font-size:12.2px;line-height:20px;color:#0070c0;">3</div>
<div class="t b" style="left:1369.4px;top:1247.77px;width:60px;font-size:12.2px;line-height:20px;color:#0070c0;">7</div>
<div class="t b" style="left:1.4px;top:1327.84px;width:25px;font-size:12px;line-height:20px;color:#ff0000;">15</div>
<div class="t b" style="left:29.63px;top:1325.48px;width:258px;font-size:13.9px;line-height:24px;color:#000000;letter-spacing:0.367px;">Kiep_ngheo_di_tu</div>
<div class="clip" style="left:290px;top:1297px;width:337px;height:78px;"><div class="nums" style="left:11.4px;top:0.84px;"><span style="letter-spacing:0.15px">Dàn 64 Số:</span>
01 04 09 10 11 14 15 16 17 18 19 23 25 26 27 28 29 32 34
35 36 37 38 39 41 43 47 48 51 52 54 56 57 58 59 61 62 63
65 67 68 69 70 71 74 76 77 78 79 81 82 83 85 86 87 88 89</div></div>
<div class="t b" style="left:627.9px;top:1327.8px;width:22px;font-size:13px;line-height:20px;color:#002060;">x</div>
<div class="t b" style="left:649.4px;top:1327.8px;width:22px;font-size:13px;line-height:20px;color:#002060;">x</div>
<div class="t b" style="left:672.4px;top:1327.8px;width:22px;font-size:13px;line-height:20px;color:#002060;">o</div>
<div class="t b" style="left:695.4px;top:1327.8px;width:22px;font-size:13px;line-height:20px;color:#002060;">x</div>
<div class="t b" style="left:718.4px;top:1327.8px;width:22px;font-size:13px;line-height:20px;color:#002060;">o</div>
<div class="t b" style="left:741.4px;top:1327.8px;width:22px;font-size:13px;line-height:20px;color:#002060;">o</div>
<div class="t b" style="left:764.4px;top:1327.8px;width:22px;font-size:13px;line-height:20px;color:#002060;">x</div>
<div class="t b" style="left:787.4px;top:1327.8px;width:22px;font-size:13px;line-height:20px;color:#002060;">x</div>
<div class="t b" style="left:810.4px;top:1327.8px;width:22px;font-size:13px;line-height:20px;color:#002060;">x</div>
<div class="t b" style="left:833.4px;top:1327.8px;width:22px;font-size:13px;line-height:20px;color:#002060;">x</div>
<div class="t b" style="left:1339.7px;top:1327.77px;width:21px;font-size:12.2px;line-height:20px;color:#0070c0;">3</div>
<div class="t b" style="left:1369.4px;top:1327.77px;width:60px;font-size:12.2px;line-height:20px;color:#0070c0;">7</div>
<div class="t b" style="left:1.4px;top:1407.84px;width:25px;font-size:12px;line-height:20px;color:#ff0000;">16</div>
<div class="t b i" style="left:28.73px;top:1405.48px;width:258px;font-size:13.9px;line-height:24px;color:#00b0f0;letter-spacing:-0.340px;">hoangminhks</div>
<div class="clip" style="left:290px;top:1377px;width:337px;height:78px;"><div class="nums" style="left:11.4px;top:0.84px;"><span style="letter-spacing:0.15px">Dàn 64 Số:</span>
01 05 07 09 10 11 14 15 16 17 18 19 21 24 25 26 27 28 29
99 34 36 37 38 39 41 43 47 48 50 51 52 54 55 56 57 58 59
61 62 63 64 65 67 68 69 71 72 73 74 75 76 78 79 81 82 83</div></div>
<div class="t b" style="left:627.9px;top:1407.8px;width:22px;font-size:13px;line-height:20px;color:#002060;">x</div>
<div class="t b" style="left:649.4px;top:1407.8px;width:22px;font-size:13px;line-height:20px;color:#002060;">x</div>
<div class="t b" style="left:672.4px;top:1407.8px;width:22px;font-size:13px;line-height:20px;color:#002060;">o</div>
<div class="t b" style="left:695.4px;top:1407.8px;width:22px;font-size:13px;line-height:20px;color:#002060;">x</div>
<div class="t b" style="left:718.4px;top:1407.8px;width:22px;font-size:13px;line-height:20px;color:#002060;">o</div>
<div class="t b" style="left:741.4px;top:1407.8px;width:22px;font-size:13px;line-height:20px;color:#002060;">o</div>
<div class="t b" style="left:764.4px;top:1407.8px;width:22px;font-size:13px;line-height:20px;color:#002060;">x</div>
<div class="t b" style="left:787.4px;top:1407.8px;width:22px;font-size:13px;line-height:20px;color:#002060;">x</div>
<div class="t b" style="left:810.4px;top:1407.8px;width:22px;font-size:13px;line-height:20px;color:#002060;">x</div>
<div class="t b" style="left:833.4px;top:1407.8px;width:22px;font-size:13px;line-height:20px;color:#002060;">x</div>
<div class="t b" style="left:1339.7px;top:1407.77px;width:21px;font-size:12.2px;line-height:20px;color:#0070c0;">3</div>
<div class="t b" style="left:1369.4px;top:1407.77px;width:60px;font-size:12.2px;line-height:20px;color:#0070c0;">7</div>
<div class="t b" style="left:1.4px;top:1487.84px;width:25px;font-size:12px;line-height:20px;color:#ff0000;">17</div>
<div class="t b" style="left:29.55px;top:1485.51px;width:258px;font-size:16.7px;line-height:24px;color:#974706;letter-spacing:-0.190px;">TuanSaker92</div>
<div class="clip" style="left:290px;top:1457px;width:337px;height:78px;"><div class="nums" style="left:11.4px;top:0.84px;"><span style="letter-spacing:0.15px">Dàn 64 Số:</span>
00 01 03 04 05 07 08 09 10 11 14 18 19 20 23 28 30 32 33
34 35 37 39 40 41 43 44 46 47 48 49 50 53 55 57 58 59 64
66 67 68 69 70 73 74 76 78 79 80 81 82 83 84 85 86 87 89</div></div>
<div class="t b" style="left:627.9px;top:1487.8px;width:22px;font-size:13px;line-height:20px;color:#002060;">o</div>
<div class="t b" style="left:649.4px;top:1487.8px;width:22px;font-size:13px;line-height:20px;color:#002060;">o</div>
<div class="t b" style="left:672.4px;top:1487.8px;width:22px;font-size:13px;line-height:20px;color:#002060;">x</div>
<div class="t b" style="left:695.4px;top:1487.8px;width:22px;font-size:13px;line-height:20px;color:#002060;">o</div>
<div class="t b" style="left:718.4px;top:1487.8px;width:22px;font-size:13px;line-height:20px;color:#002060;">x</div>
<div class="t b" style="left:741.4px;top:1487.8px;width:22px;font-size:13px;line-height:20px;color:#002060;">x</div>
<div class="t b" style="left:764.4px;top:1487.8px;width:22px;font-size:13px;line-height:20px;color:#002060;">x</div>
<div class="t b" style="left:787.4px;top:1487.8px;width:22px;font-size:13px;line-height:20px;color:#002060;">x</div>
<div class="t b" style="left:810.4px;top:1487.8px;width:22px;font-size:13px;line-height:20px;color:#002060;">x</div>
<div class="t b" style="left:833.4px;top:1487.8px;width:22px;font-size:13px;line-height:20px;color:#002060;">x</div>
<div class="t b" style="left:1339.7px;top:1487.77px;width:21px;font-size:12.2px;line-height:20px;color:#0070c0;">3</div>
<div class="t b" style="left:1369.4px;top:1487.77px;width:60px;font-size:12.2px;line-height:20px;color:#0070c0;">7</div>
<div class="t b" style="left:1.4px;top:1567.84px;width:25px;font-size:12px;line-height:20px;color:#ff0000;">18</div>
<div class="t b" style="left:29.9px;top:1565.51px;width:258px;font-size:16.7px;line-height:24px;color:#974706;letter-spacing:0.200px;">Allcn2018</div>
<div class="clip" style="left:290px;top:1537px;width:337px;height:78px;"><div class="nums" style="left:11.4px;top:0.84px;"><span style="letter-spacing:0.15px">Dàn 64 Số:</span>
01 03 05 06 08 10 12 14 15 17 19 21 23 24 26 28 29 30 32
34 35 37 38 39 41 42 43 44 46 47 48 49 50 51 53 56 58 60
62 64 65 67 69 71 73 74 76 78 79 80 82 83 84 85 87 89 91</div></div>
<div class="t b" style="left:627.9px;top:1567.8px;width:22px;font-size:13px;line-height:20px;color:#002060;">x</div>
<div class="t b" style="left:649.4px;top:1567.8px;width:22px;font-size:13px;line-height:20px;color:#002060;">x</div>
<div class="t b" style="left:672.4px;top:1567.8px;width:22px;font-size:13px;line-height:20px;color:#002060;">x</div>
<div class="t b" style="left:695.4px;top:1567.8px;width:22px;font-size:13px;line-height:20px;color:#002060;">x</div>
<div class="t b" style="left:718.4px;top:1567.8px;width:22px;font-size:13px;line-height:20px;color:#002060;">o</div>
<div class="t b" style="left:741.4px;top:1567.8px;width:22px;font-size:13px;line-height:20px;color:#002060;">x</div>
<div class="t b" style="left:764.4px;top:1567.8px;width:22px;font-size:13px;line-height:20px;color:#002060;">x</div>
<div class="t b" style="left:787.4px;top:1567.8px;width:22px;font-size:13px;line-height:20px;color:#002060;">o</div>
<div class="t b" style="left:810.4px;top:1567.8px;width:22px;font-size:13px;line-height:20px;color:#002060;">o</div>
<div class="t b" style="left:833.4px;top:1567.8px;width:22px;font-size:13px;line-height:20px;color:#002060;">o</div>
<div class="t b" style="left:1339.7px;top:1567.77px;width:21px;font-size:12.2px;line-height:20px;color:#0070c0;">4</div>
<div class="t b" style="left:1369.4px;top:1567.77px;width:60px;font-size:12.2px;line-height:20px;color:#0070c0;">6</div>
<div class="t b" style="left:1.4px;top:1647.84px;width:25px;font-size:12px;line-height:20px;color:#ff0000;">19</div>
<div class="t b" style="left:30.47px;top:1645.51px;width:258px;font-size:16.7px;line-height:24px;color:#00b0f0;letter-spacing:0.045px;">Binhminh-368</div>
<div class="clip" style="left:290px;top:1617px;width:337px;height:78px;"><div class="nums" style="left:11.4px;top:0.84px;"><span style="letter-spacing:0.15px">Dàn 64 Số:</span>
00 02 04 05 06 07 09 11 13 14 15 16 17 19 20 22 23 24 25
26 27 40 41 42 43 44 45 46 50 51 52 53 54 55 57 59 60 61
62 63 64 66 69 70 71 72 73 75 77 79 80 81 82 84 86 87 89</div></div>
<div class="t b" style="left:627.9px;top:1647.8px;width:22px;font-size:13px;line-height:20px;color:#002060;">x</div>
<div class="t b" style="left:649.4px;top:1647.8px;width:22px;font-size:13px;line-height:20px;color:#002060;">o</div>
<div class="t b" style="left:672.4px;top:1647.8px;width:22px;font-size:13px;line-height:20px;color:#002060;">x</div>
<div class="t b" style="left:695.4px;top:1647.8px;width:22px;font-size:13px;line-height:20px;color:#002060;">x</div>
<div class="t b" style="left:718.4px;top:1647.8px;width:22px;font-size:13px;line-height:20px;color:#002060;">x</div>
<div class="t b" style="left:741.4px;top:1647.8px;width:22px;font-size:13px;line-height:20px;color:#002060;">x</div>
<div class="t b" style="left:764.4px;top:1647.8px;width:22px;font-size:13px;line-height:20px;color:#002060;">x</div>
<div class="t b" style="left:787.4px;top:1647.8px;width:22px;font-size:13px;line-height:20px;color:#002060;">o</div>
<div class="t b" style="left:810.4px;top:1647.8px;width:22px;font-size:13px;line-height:20px;color:#002060;">o</div>
<div class="t b" style="left:833.4px;top:1647.8px;width:22px;font-size:13px;line-height:20px;color:#002060;">o</div>
<div class="t b" style="left:1339.7px;top:1647.77px;width:21px;font-size:12.2px;line-height:20px;color:#0070c0;">4</div>
<div class="t b" style="left:1369.4px;top:1647.77px;width:60px;font-size:12.2px;line-height:20px;color:#0070c0;">6</div>
<div class="t b" style="left:1.4px;top:1727.84px;width:25px;font-size:12px;line-height:20px;color:#ff0000;">20</div>
<div class="t b" style="left:29.9px;top:1725.51px;width:258px;font-size:16.7px;line-height:24px;color:#000000;letter-spacing:0.400px;">thulang1111</div>
<div class="clip" style="left:290px;top:1697px;width:337px;height:78px;"><div class="nums" style="left:11.4px;top:0.84px;"><span style="letter-spacing:0.15px">Dàn 64 Số:</span>
12 13 14 23 28 29 30 31 32 33 34 35 36 37 38 39 40 41 42
43 45 46 47 48 49 50 51 52 53 54 55 56 57 58 59 60 61 62
63 64 65 67 68 69 70 71 72 73 74 75 76 78 83 84 85 86 87</div></div>
<div class="t b" style="left:627.9px;top:1727.8px;width:22px;font-size:13px;line-height:20px;color:#002060;">x</div>
<div class="t b" style="left:649.4px;top:1727.8px;width:22px;font-size:13px;line-height:20px;color:#002060;">x</div>
<div class="t b" style="left:672.4px;top:1727.8px;width:22px;font-size:13px;line-height:20px;color:#002060;">x</div>
<div class="t b" style="left:695.4px;top:1727.8px;width:22px;font-size:13px;line-height:20px;color:#002060;">x</div>
<div class="t b" style="left:718.4px;top:1727.8px;width:22px;font-size:13px;line-height:20px;color:#002060;">o</div>
<div class="t b" style="left:741.4px;top:1727.8px;width:22px;font-size:13px;line-height:20px;color:#002060;">x</div>
<div class="t b" style="left:764.4px;top:1727.8px;width:22px;font-size:13px;line-height:20px;color:#002060;">o</div>
<div class="t b" style="left:787.4px;top:1727.8px;width:22px;font-size:13px;line-height:20px;color:#002060;">x</div>
<div class="t b" style="left:810.4px;top:1727.8px;width:22px;font-size:13px;line-height:20px;color:#002060;">o</div>
<div class="t b" style="left:833.4px;top:1727.8px;width:22px;font-size:13px;line-height:20px;color:#002060;">o</div>
<div class="t b" style="left:1339.7px;top:1727.77px;width:21px;font-size:12.2px;line-height:20px;color:#0070c0;">4</div>
<div class="t b" style="left:1369.4px;top:1727.77px;width:60px;font-size:12.2px;line-height:20px;color:#0070c0;">6</div>
<div class="t b" style="left:1.4px;top:1807.84px;width:25px;font-size:12px;line-height:20px;color:#ff0000;">21</div>
<div class="t b" style="left:29.68px;top:1805.51px;width:258px;font-size:16.7px;line-height:24px;color:#e620cf;letter-spacing:-0.033px;">Bemai2k</div>
<div class="clip" style="left:290px;top:1777px;width:337px;height:78px;"><div class="nums" style="left:11.4px;top:0.84px;"><span style="letter-spacing:0.15px">Dàn 64 Số:</span>
01 11 21 31 41 51 61 71 81 91 02 12 22 32 42 52 62 72 82
92 03 13 23 33 43 53 63 73 83 93 04 14 24 34 44 54 64 74
84 94 05 15 25 35 45 55 65 75 85 95 09 19 29 39 49 59 69</div></div>
<div class="t b" style="left:627.9px;top:1807.8px;width:22px;font-size:13px;line-height:20px;color:#002060;">x</div>
<div class="t b" style="left:649.4px;top:1807.8px;width:22px;font-size:13px;line-height:20px;color:#002060;">x</div>
<div class="t b" style="left:672.4px;top:1807.8px;width:22px;font-size:13px;line-height:20px;color:#002060;">x</div>
<div class="t b" style="left:695.4px;top:1807.8px;width:22px;font-size:13px;line-height:20px;color:#002060;">x</div>
<div class="t b" style="left:718.4px;top:1807.8px;width:22px;font-size:13px;line-height:20px;color:#002060;">o</div>
<div class="t b" style="left:741.4px;top:1807.8px;width:22px;font-size:13px;line-height:20px;color:#002060;">o</div>
<div class="t b" style="left:764.4px;top:1807.8px;width:22px;font-size:13px;line-height:20px;color:#002060;">x</div>
<div class="t b" style="left:787.4px;top:1807.8px;width:22px;font-size:13px;line-height:20px;color:#002060;">x</div>
<div class="t b" style="left:810.4px;top:1807.8px;width:22px;font-size:13px;line-height:20px;color:#002060;">o</div>
<div class="t b" style="left:833.4px;top:1807.8px;width:22px;font-size:13px;line-height:20px;color:#002060;">o</div>
<div class="t b" style="left:1339.7px;top:1807.77px;width:21px;font-size:12.2px;line-height:20px;color:#0070c0;">4</div>
<div class="t b" style="left:1369.4px;top:1807.77px;width:60px;font-size:12.2px;line-height:20px;color:#0070c0;">6</div>
<div class="t b" style="left:1.4px;top:1887.84px;width:25px;font-size:12px;line-height:20px;color:#ff0000;">22</div>
<div class="t b" style="left:29.76px;top:1885.51px;width:258px;font-size:16.7px;line-height:24px;color:#00b0f0;letter-spacing:-0.289px;">Naagasakii</div>
<div class="clip" style="left:290px;top:1857px;width:337px;height:78px;"><div class="nums" style="left:11.4px;top:0.84px;"><span style="letter-spacing:0.15px">Dàn 64 Số:</span>
02 04 07 09 12 14 17 19 20 21 22 23 24 25 26 27 28 29 32
34 37 39 40 41 42 43 44 45 46 47 48 49 52 54 57 59 62 64
67 69 70 71 72 73 74 75 76 77 78 79 82 84 87 89 90 91 92</div></div>
<div class="t b" style="left:627.9px;top:1887.8px;width:22px;font-size:13px;line-height:20px;color:#002060;">x</div>
<div class="t b" style="left:649.4px;top:1887.8px;width:22px;font-size:13px;line-height:20px;color:#002060;">x</div>
<div class="t b" style="left:672.4px;top:1887.8px;width:22px;font-size:13px;line-height:20px;color:#002060;">x</div>
<div class="t b" style="left:695.4px;top:1887.8px;width:22px;font-size:13px;line-height:20px;color:#002060;">x</div>
<div class="t b" style="left:718.4px;top:1887.8px;width:22px;font-size:13px;line-height:20px;color:#002060;">o</div>
<div class="t b" style="left:741.4px;top:1887.8px;width:22px;font-size:13px;line-height:20px;color:#002060;">o</div>
<div class="t b" style="left:764.4px;top:1887.8px;width:22px;font-size:13px;line-height:20px;color:#002060;">o</div>
<div class="t b" style="left:787.4px;top:1887.8px;width:22px;font-size:13px;line-height:20px;color:#002060;">o</div>
<div class="t b" style="left:810.4px;top:1887.8px;width:22px;font-size:13px;line-height:20px;color:#002060;">x</div>
<div class="t b" style="left:833.4px;top:1887.8px;width:22px;font-size:13px;line-height:20px;color:#002060;">x</div>
<div class="t b" style="left:1339.7px;top:1887.77px;width:21px;font-size:12.2px;line-height:20px;color:#0070c0;">4</div>
<div class="t b" style="left:1369.4px;top:1887.77px;width:60px;font-size:12.2px;line-height:20px;color:#0070c0;">6</div>
<div class="t b" style="left:1.4px;top:1967.84px;width:25px;font-size:12px;line-height:20px;color:#ff0000;">23</div>
<div class="t b" style="left:29.3px;top:1965.51px;width:258px;font-size:16.7px;line-height:24px;color:#974706;letter-spacing:-0.400px;">Rauria</div>
<div class="t b" style="left:627.9px;top:1967.8px;width:22px;font-size:13px;line-height:20px;color:#002060;">x</div>
<div class="t b" style="left:649.4px;top:1967.8px;width:22px;font-size:13px;line-height:20px;color:#002060;">o</div>
<div class="t b" style="left:672.4px;top:1967.8px;width:22px;font-size:13px;line-height:20px;color:#002060;">x</div>
<div class="t b" style="left:695.4px;top:1967.8px;width:22px;font-size:13px;line-height:20px;color:#002060;">x</div>
<div class="t b" style="left:718.4px;top:1967.8px;width:22px;font-size:13px;line-height:20px;color:#002060;">o</div>
<div class="t b" style="left:741.4px;top:1967.8px;width:22px;font-size:13px;line-height:20px;color:#002060;">o</div>
<div class="t b" style="left:764.4px;top:1967.8px;width:22px;font-size:13px;line-height:20px;color:#002060;">x</div>
<div class="t b" style="left:787.4px;top:1967.8px;width:22px;font-size:13px;line-height:20px;color:#002060;">x</div>
<div class="t b" style="left:810.4px;top:1967.8px;width:22px;font-size:13px;line-height:20px;color:#002060;">o</div>
<div class="t b" style="left:833.4px;top:1967.8px;width:22px;font-size:13px;line-height:20px;color:#002060;">x</div>
<div class="t b" style="left:1339.7px;top:1967.77px;width:21px;font-size:12.2px;line-height:20px;color:#0070c0;">4</div>
<div class="t b" style="left:1369.4px;top:1967.77px;width:60px;font-size:12.2px;line-height:20px;color:#0070c0;">6</div>
<div class="t b" style="left:1.4px;top:2047.84px;width:25px;font-size:12px;line-height:20px;color:#ff0000;">24</div>
<div class="t b" style="left:29.84px;top:2045.51px;width:258px;font-size:16.7px;line-height:24px;color:#974706;letter-spacing:0.075px;">Kemdau123</div>
<div class="clip" style="left:290px;top:2017px;width:337px;height:78px;"><div class="nums" style="left:11.4px;top:0.84px;"><span style="letter-spacing:0.15px">Dàn 64 Số:</span>
00 03 04 05 06 07 09 11 13 16 17 19 20 25 29 30 31 36 39
15 34 35 37 40 41 44 43 45 46 60 47 48 49 50 52 53 55 54
57 58 59 61 64 67 70 71 74 75 77 78 80 84 85 86 89 98 99</div></div>
<div class="t b" style="left:627.9px;top:2047.8px;width:22px;font-size:13px;line-height:20px;color:#002060;">x</div>
<div class="t b" style="left:649.4px;top:2047.8px;width:22px;font-size:13px;line-height:20px;color:#002060;">o</div>
<div class="t b" style="left:672.4px;top:2047.8px;width:22px;font-size:13px;line-height:20px;color:#002060;">x</div>
<div class="t b" style="left:695.4px;top:2047.8px;width:22px;font-size:13px;line-height:20px;color:#002060;">o</div>
<div class="t b" style="left:718.4px;top:2047.8px;width:22px;font-size:13px;line-height:20px;color:#002060;">x</div>
<div class="t b" style="left:741.4px;top:2047.8px;width:22px;font-size:13px;line-height:20px;color:#002060;">o</div>
<div class="t b" style="left:764.4px;top:2047.8px;width:22px;font-size:13px;line-height:20px;color:#002060;">x</div>
<div class="t b" style="left:787.4px;top:2047.8px;width:22px;font-size:13px;line-height:20px;color:#002060;">x</div>
<div class="t b" style="left:810.4px;top:2047.8px;width:22px;font-size:13px;line-height:20px;color:#002060;">o</div>
<div class="t b" style="left:833.4px;top:2047.8px;width:22px;font-size:13px;line-height:20px;color:#002060;">x</div>
<div class="t b" style="left:1339.7px;top:2047.77px;width:21px;font-size:12.2px;line-height:20px;color:#0070c0;">4</div>
<div class="t b" style="left:1369.4px;top:2047.77px;width:60px;font-size:12.2px;line-height:20px;color:#0070c0;">6</div>
<div class="t b" style="left:1.4px;top:2127.84px;width:25px;font-size:12px;line-height:20px;color:#ff0000;">25</div>
<div class="t b" style="left:29.81px;top:2125.51px;width:258px;font-size:16.7px;line-height:24px;color:#974706;letter-spacing:0.329px;">duywui12</div>
<div class="clip" style="left:290px;top:2097px;width:337px;height:78px;"><div class="nums" style="left:11.4px;top:0.84px;"><span style="letter-spacing:0.15px">Dàn 64 Số:</span>
02 20 12 21 22 32 23 42 24 52 25 62 26 72 27 82 28 92 29
04 40 14 41 34 43 44 54 45 64 46 74 47 84 48 94 49 08 80
18 81 38 83 58 85 68 86 78 87 88 98 89 09 90 19 91 39 93</div></div>
<div class="t b" style="left:627.9px;top:2127.8px;width:22px;font-size:13px;line-height:20px;color:#002060;">x</div>
<div class="t b" style="left:649.4px;top:2127.8px;width:22px;font-size:13px;line-height:20px;color:#002060;">o</div>
<div class="t b" style="left:672.4px;top:2127.8px;width:22px;font-size:13px;line-height:20px;color:#002060;">x</div>
<div class="t b" style="left:695.4px;top:2127.8px;width:22px;font-size:13px;line-height:20px;color:#002060;">o</div>
<div class="t b" style="left:718.4px;top:2127.8px;width:22px;font-size:13px;line-height:20px;color:#002060;">o</div>
<div class="t b" style="left:741.4px;top:2127.8px;width:22px;font-size:13px;line-height:20px;color:#002060;">x</div>
<div class="t b" style="left:764.4px;top:2127.8px;width:22px;font-size:13px;line-height:20px;color:#002060;">x</div>
<div class="t b" style="left:787.4px;top:2127.8px;width:22px;font-size:13px;line-height:20px;color:#002060;">x</div>
<div class="t b" style="left:810.4px;top:2127.8px;width:22px;font-size:13px;line-height:20px;color:#002060;">o</div>
<div class="t b" style="left:833.4px;top:2127.8px;width:22px;font-size:13px;line-height:20px;color:#002060;">x</div>
<div class="t b" style="left:1339.7px;top:2127.77px;width:21px;font-size:12.2px;line-height:20px;color:#0070c0;">4</div>
<div class="t b" style="left:1369.4px;top:2127.77px;width:60px;font-size:12.2px;line-height:20px;color:#0070c0;">6</div>
<div class="t b" style="left:1.4px;top:2207.84px;width:25px;font-size:12px;line-height:20px;color:#ff0000;">26</div>
<div class="t b" style="left:29.51px;top:2205.51px;width:258px;font-size:16.7px;line-height:24px;color:#974706;letter-spacing:0.515px;">Miendathua6683</div>
<div class="clip" style="left:290px;top:2177px;width:337px;height:78px;"><div class="nums" style="left:11.4px;top:0.84px;"><span style="letter-spacing:0.15px">Dàn 64 Số:</span>
02 20 07 70 25 52 57 75 13 31 18 81 36 63 68 86 34 43 39
93 48 84 89 98 27 72 22 77 54 45 09 90 59 95 04 40 16 61
11 66 00 55 05 50 53 35 08 80 30 03 58 85 44 99 49 94 17</div></div>
<div class="t b" style="left:627.9px;top:2207.8px;width:22px;font-size:13px;line-height:20px;color:#002060;">x</div>
<div class="t b" style="left:649.4px;top:2207.8px;width:22px;font-size:13px;line-height:20px;color:#002060;">o</div>
<div class="t b" style="left:672.4px;top:2207.8px;width:22px;font-size:13px;line-height:20px;color:#002060;">o</div>
<div class="t b" style="left:695.4px;top:2207.8px;width:22px;font-size:13px;line-height:20px;color:#002060;">x</div>
<div class="t b" style="left:718.4px;top:2207.8px;width:22px;font-size:13px;line-height:20px;color:#002060;">o</div>
<div class="t b" style="left:741.4px;top:2207.8px;width:22px;font-size:13px;line-height:20px;color:#002060;">x</div>
<div class="t b" style="left:764.4px;top:2207.8px;width:22px;font-size:13px;line-height:20px;color:#002060;">o</div>
<div class="t b" style="left:787.4px;top:2207.8px;width:22px;font-size:13px;line-height:20px;color:#002060;">x</div>
<div class="t b" style="left:810.4px;top:2207.8px;width:22px;font-size:13px;line-height:20px;color:#002060;">x</div>
<div class="t b" style="left:833.4px;top:2207.8px;width:22px;font-size:13px;line-height:20px;color:#002060;">x</div>
<div class="t b" style="left:1339.7px;top:2207.77px;width:21px;font-size:12.2px;line-height:20px;color:#0070c0;">4</div>
<div class="t b" style="left:1369.4px;top:2207.77px;width:60px;font-size:12.2px;line-height:20px;color:#0070c0;">6</div>
<div class="t b" style="left:1.4px;top:2287.84px;width:25px;font-size:12px;line-height:20px;color:#ff0000;">27</div>
<div class="t b" style="left:29.67px;top:2285.51px;width:258px;font-size:16.7px;line-height:24px;color:#974706;letter-spacing:0.343px;">ruabi004</div>
<div class="clip" style="left:290px;top:2257px;width:337px;height:78px;"><div class="nums" style="left:11.4px;top:0.84px;"><span style="letter-spacing:0.15px">Dàn 64 Số:</span>
02 11 12 13 14 16 18 20 21 22 23 26 27 28 29 31 32 33 34
36 37 38 39 41 42 43 46 47 48 51 52 56 57 60 61 62 63 64
65 66 67 68 69 70 71 72 73 74 75 76 77 78 79 81 82 83 84</div></div>
<div class="t b" style="left:627.9px;top:2287.8px;width:22px;font-size:13px;line-height:20px;color:#002060;">x</div>
<div class="t b" style="left:649.4px;top:2287.8px;width:22px;font-size:13px;line-height:20px;color:#002060;">o</div>
<div class="t b" style="left:672.4px;top:2287.8px;width:22px;font-size:13px;line-height:20px;color:#002060;">x</div>
<div class="t b" style="left:695.4px;top:2287.8px;width:22px;font-size:13px;line-height:20px;color:#002060;">o</div>
<div class="t b" style="left:718.4px;top:2287.8px;width:22px;font-size:13px;line-height:20px;color:#002060;">o</div>
<div class="t b" style="left:741.4px;top:2287.8px;width:22px;font-size:13px;line-height:20px;color:#002060;">o</div>
<div class="t b" style="left:764.4px;top:2287.8px;width:22px;font-size:13px;line-height:20px;color:#002060;">x</div>
<div class="t b" style="left:787.4px;top:2287.8px;width:22px;font-size:13px;line-height:20px;color:#002060;">x</div>
<div class="t b" style="left:810.4px;top:2287.8px;width:22px;font-size:13px;line-height:20px;color:#002060;">x</div>
<div class="t b" style="left:833.4px;top:2287.8px;width:22px;font-size:13px;line-height:20px;color:#002060;">x</div>
<div class="t b" style="left:1339.7px;top:2287.77px;width:21px;font-size:12.2px;line-height:20px;color:#0070c0;">4</div>
<div class="t b" style="left:1369.4px;top:2287.77px;width:60px;font-size:12.2px;line-height:20px;color:#0070c0;">6</div>
<div class="t b" style="left:1.4px;top:2367.84px;width:25px;font-size:12px;line-height:20px;color:#ff0000;">28</div>
<div class="t b" style="left:29.87px;top:2365.51px;width:258px;font-size:16.7px;line-height:24px;color:#000000;letter-spacing:-0.462px;">BacKieuPhong86</div>
<div class="clip" style="left:290px;top:2337px;width:337px;height:78px;"><div class="nums" style="left:11.4px;top:0.84px;"><span style="letter-spacing:0.15px">Dàn 64 Số:</span>
03 04 06 08 09 11 12 13 15 16 17 18 19 21 22 26 27 28 30
31 34 35 36 37 39 40 43 44 45 46 48 49 51 53 54 55 58 59
60 61 62 63 64 66 67 68 71 72 73 76 77 80 81 82 84 85 86</div></div>
<div class="t b" style="left:627.9px;top:2367.8px;width:22px;font-size:13px;line-height:20px;color:#002060;">x</div>
<div class="t b" style="left:649.4px;top:2367.8px;width:22px;font-size:13px;line-height:20px;color:#002060;">o</div>
<div class="t b" style="left:672.4px;top:2367.8px;width:22px;font-size:13px;line-height:20px;color:#002060;">x</div>
<div class="t b" style="left:695.4px;top:2367.8px;width:22px;font-size:13px;line-height:20px;color:#002060;">o</div>
<div class="t b" style="left:718.4px;top:2367.8px;width:22px;font-size:13px;line-height:20px;color:#002060;">x</div>
<div class="t b" style="left:741.4px;top:2367.8px;width:22px;font-size:13px;line-height:20px;color:#002060;">x</div>
<div class="t b" style="left:764.4px;top:2367.8px;width:22px;font-size:13px;line-height:20px;color:#002060;">o</div>
<div class="t b" style="left:787.4px;top:2367.8px;width:22px;font-size:13px;line-height:20px;color:#002060;">o</div>
<div class="t b" style="left:810.4px;top:2367.8px;width:22px;font-size:13px;line-height:20px;color:#002060;">x</div>
<div class="t b" style="left:833.4px;top:2367.8px;width:22px;font-size:13px;line-height:20px;color:#002060;">o</div>
<div class="t b" style="left:1339.7px;top:2367.77px;width:21px;font-size:12.2px;line-height:20px;color:#0070c0;">5</div>
<div class="t b" style="left:1369.4px;top:2367.77px;width:60px;font-size:12.2px;line-height:20px;color:#0070c0;">5</div>
<div class="t b" style="left:1.4px;top:2447.84px;width:25px;font-size:12px;line-height:20px;color:#ff0000;">29</div>
<div class="t b i" style="left:29.12px;top:2445.48px;width:258px;font-size:13.9px;line-height:24px;color:#00b0f0;letter-spacing:0.150px;">chilatoi123</div>
<div class="clip" style="left:290px;top:2417px;width:337px;height:78px;"><div class="nums" style="left:11.4px;top:0.84px;"><span style="letter-spacing:0.15px">Dàn 64 Số:</span>
00 01 05 06 07 09 10 11 14 15 16 17 19 20 21 24 26 27 28
29 31 32 33 34 35 36 40 41 43 44 45 46 50 51 52 53 54 55
56 60 62 63 64 65 66 71 72 74 75 76 77 78 79 80 81 82 87</div></div>
<div class="t b" style="left:627.9px;top:2447.8px;width:22px;font-size:13px;line-height:20px;color:#002060;">x</div>
<div class="t b" style="left:649.4px;top:2447.8px;width:22px;font-size:13px;line-height:20px;color:#002060;">o</div>
<div class="t b" style="left:672.4px;top:2447.8px;width:22px;font-size:13px;line-height:20px;color:#002060;">x</div>
<div class="t b" style="left:695.4px;top:2447.8px;width:22px;font-size:13px;line-height:20px;color:#002060;">x</div>
<div class="t b" style="left:718.4px;top:2447.8px;width:22px;font-size:13px;line-height:20px;color:#002060;">x</div>
<div class="t b" style="left:741.4px;top:2447.8px;width:22px;font-size:13px;line-height:20px;color:#002060;">o</div>
<div class="t b" style="left:764.4px;top:2447.8px;width:22px;font-size:13px;line-height:20px;color:#002060;">o</div>
<div class="t b" style="left:787.4px;top:2447.8px;width:22px;font-size:13px;line-height:20px;color:#002060;">o</div>
<div class="t b" style="left:810.4px;top:2447.8px;width:22px;font-size:13px;line-height:20px;color:#002060;">o</div>
<div class="t b" style="left:833.4px;top:2447.8px;width:22px;font-size:13px;line-height:20px;color:#002060;">x</div>
<div class="t b" style="left:1339.7px;top:2447.77px;width:21px;font-size:12.2px;line-height:20px;color:#0070c0;">5</div>
<div class="t b" style="left:1369.4px;top:2447.77px;width:60px;font-size:12.2px;line-height:20px;color:#0070c0;">5</div>
<div class="t b" style="left:1.4px;top:2527.84px;width:25px;font-size:12px;line-height:20px;color:#ff0000;">30</div>
<div class="t b" style="left:29.57px;top:2525.51px;width:258px;font-size:16.7px;line-height:24px;color:#974706;letter-spacing:-0.250px;">Ducnguyencp14</div>
<div class="clip" style="left:290px;top:2497px;width:337px;height:78px;"><div class="nums" style="left:11.4px;top:0.84px;"><span style="letter-spacing:0.15px">Dàn 64 Số:</span>
00 02 04 06 08 20 22 24 26 28 40 42 44 46 48 60 62 64 66
68 80 82 84 86 88 11 13 15 17 19 31 33 35 37 39 51 55 57
59 71 73 75 77 79 91 93 95 97 99 01 03 05 07 09 21 23 25</div></div>
<div class="t b" style="left:627.9px;top:2527.8px;width:22px;font-size:13px;line-height:20px;color:#002060;">x</div>
<div class="t b" style="left:649.4px;top:2527.8px;width:22px;font-size:13px;line-height:20px;color:#002060;">o</div>
<div class="t b" style="left:672.4px;top:2527.8px;width:22px;font-size:13px;line-height:20px;color:#002060;">x</div>
<div class="t b" style="left:695.4px;top:2527.8px;width:22px;font-size:13px;line-height:20px;color:#002060;">o</div>
<div class="t b" style="left:718.4px;top:2527.8px;width:22px;font-size:13px;line-height:20px;color:#002060;">x</div>
<div class="t b" style="left:741.4px;top:2527.8px;width:22px;font-size:13px;line-height:20px;color:#002060;">o</div>
<div class="t b" style="left:764.4px;top:2527.8px;width:22px;font-size:13px;line-height:20px;color:#002060;">x</div>
<div class="t b" style="left:787.4px;top:2527.8px;width:22px;font-size:13px;line-height:20px;color:#002060;">o</div>
<div class="t b" style="left:810.4px;top:2527.8px;width:22px;font-size:13px;line-height:20px;color:#002060;">o</div>
<div class="t b" style="left:833.4px;top:2527.8px;width:22px;font-size:13px;line-height:20px;color:#002060;">x</div>
<div class="t b" style="left:1339.7px;top:2527.77px;width:21px;font-size:12.2px;line-height:20px;color:#0070c0;">5</div>
<div class="t b" style="left:1369.4px;top:2527.77px;width:60px;font-size:12.2px;line-height:20px;color:#0070c0;">5</div>
<div class="t b" style="left:1.4px;top:2607.84px;width:25px;font-size:12px;line-height:20px;color:#ff0000;">31</div>
<div class="t b" style="left:29.73px;top:2605.51px;width:258px;font-size:16.7px;line-height:24px;color:#974706;letter-spacing:-0.143px;">Binhrau1</div>
<div class="clip" style="left:290px;top:2577px;width:337px;height:78px;"><div class="nums" style="left:11.4px;top:0.84px;"><span style="letter-spacing:0.15px">Dàn 64 Số:</span>
01 02 03 06 11 13 14 15 16 17 18 19 20 21 22 23 24 25 26
27 28 29 30 31 32 33 34 35 36 37 39 41 42 43 46 61 62 63
64 65 67 70 71 72 73 75 76 77 78 79 81 82 83 84 87 91 92</div></div>
<div class="t b" style="left:627.9px;top:2607.8px;width:22px;font-size:13px;line-height:20px;color:#002060;">o</div>
<div class="t b" style="left:649.4px;top:2607.8px;width:22px;font-size:13px;line-height:20px;color:#002060;">o</div>
<div class="t b" style="left:672.4px;top:2607.8px;width:22px;font-size:13px;line-height:20px;color:#002060;">x</div>
<div class="t b" style="left:695.4px;top:2607.8px;width:22px;font-size:13px;line-height:20px;color:#002060;">o</div>
<div class="t b" style="left:718.4px;top:2607.8px;width:22px;font-size:13px;line-height:20px;color:#002060;">o</div>
<div class="t b" style="left:741.4px;top:2607.8px;width:22px;font-size:13px;line-height:20px;color:#002060;">o</div>
<div class="t b" style="left:764.4px;top:2607.8px;width:22px;font-size:13px;line-height:20px;color:#002060;">x</div>
<div class="t b" style="left:787.4px;top:2607.8px;width:22px;font-size:13px;line-height:20px;color:#002060;">x</div>
<div class="t b" style="left:810.4px;top:2607.8px;width:22px;font-size:13px;line-height:20px;color:#002060;">x</div>
<div class="t b" style="left:833.4px;top:2607.8px;width:22px;font-size:13px;line-height:20px;color:#002060;">x</div>
<div class="t b" style="left:1339.7px;top:2607.77px;width:21px;font-size:12.2px;line-height:20px;color:#0070c0;">5</div>
<div class="t b" style="left:1369.4px;top:2607.77px;width:60px;font-size:12.2px;line-height:20px;color:#0070c0;">5</div>
<div class="t b" style="left:1.4px;top:2687.84px;width:25px;font-size:12px;line-height:20px;color:#ff0000;">32</div>
<div class="t b" style="left:29.95px;top:2685.51px;width:258px;font-size:16.7px;line-height:24px;color:#00b0f0;letter-spacing:0.308px;">Muanangdoitrai</div>
<div class="clip" style="left:290px;top:2657px;width:337px;height:78px;"><div class="nums" style="left:11.4px;top:0.84px;"><span style="letter-spacing:0.15px">Dàn 64 Số:</span>
02 04 07 09 12 14 17 19 20 21 22 23 24 25 26 27 28 29 32
34 37 39 40 41 42 43 44 45 46 47 48 49 52 54 57 59 62 64
67 69 70 71 72 73 74 75 76 77 78 79 82 84 87 89 90 91 92</div></div>
<div class="t b" style="left:627.9px;top:2687.8px;width:22px;font-size:13px;line-height:20px;color:#002060;">x</div>
<div class="t b" style="left:649.4px;top:2687.8px;width:22px;font-size:13px;line-height:20px;color:#002060;">o</div>
<div class="t b" style="left:672.4px;top:2687.8px;width:22px;font-size:13px;line-height:20px;color:#002060;">x</div>
<div class="t b" style="left:695.4px;top:2687.8px;width:22px;font-size:13px;line-height:20px;color:#002060;">o</div>
<div class="t b" style="left:718.4px;top:2687.8px;width:22px;font-size:13px;line-height:20px;color:#002060;">o</div>
<div class="t b" style="left:741.4px;top:2687.8px;width:22px;font-size:13px;line-height:20px;color:#002060;">x</div>
<div class="t b" style="left:764.4px;top:2687.8px;width:22px;font-size:13px;line-height:20px;color:#002060;">o</div>
<div class="t b" style="left:787.4px;top:2687.8px;width:22px;font-size:13px;line-height:20px;color:#002060;">x</div>
<div class="t b" style="left:810.4px;top:2687.8px;width:22px;font-size:13px;line-height:20px;color:#002060;">o</div>
<div class="t b" style="left:833.4px;top:2687.8px;width:22px;font-size:13px;line-height:20px;color:#002060;">o</div>
<div class="t b" style="left:1339.7px;top:2687.77px;width:21px;font-size:12.2px;line-height:20px;color:#0070c0;">6</div>
<div class="t b" style="left:1369.4px;top:2687.77px;width:60px;font-size:12.2px;line-height:20px;color:#0070c0;">4</div>
<div class="t b" style="left:1.4px;top:2767.84px;width:25px;font-size:12px;line-height:20px;color:#ff0000;">33</div>
<div class="t b" style="left:29.76px;top:2765.51px;width:258px;font-size:16.7px;line-height:24px;color:#00b0f0;letter-spacing:0.320px;">TD3758</div>
<div class="clip" style="left:290px;top:2737px;width:337px;height:78px;"><div class="nums" style="left:11.4px;top:0.84px;"><span style="letter-spacing:0.15px">Dàn 64 Số:</span>
00 01 02 03 04 05 06 07 11 13 14 16 17 18 19 20 21 23 24
25 26 30 31 32 33 34 35 36 37 39 40 41 42 43 44 45 46 48
49 50 51 53 54 56 57 58 59 60 61 62 65 67 68 69 70 71 73</div></div>
<div class="t b" style="left:627.9px;top:2767.8px;width:22px;font-size:13px;line-height:20px;color:#002060;">o</div>
<div class="t b" style="left:649.4px;top:2767.8px;width:22px;font-size:13px;line-height:20px;color:#002060;">o</div>
<div class="t b" style="left:672.4px;top:2767.8px;width:22px;font-size:13px;line-height:20px;color:#002060;">x</div>
<div class="t b" style="left:695.4px;top:2767.8px;width:22px;font-size:13px;line-height:20px;color:#002060;">x</div>
<div class="t b" style="left:718.4px;top:2767.8px;width:22px;font-size:13px;line-height:20px;color:#002060;">o</div>
<div class="t b" style="left:741.4px;top:2767.8px;width:22px;font-size:13px;line-height:20px;color:#002060;">o</div>
<div class="t b" style="left:764.4px;top:2767.8px;width:22px;font-size:13px;line-height:20px;color:#002060;">o</div>
<div class="t b" style="left:787.4px;top:2767.8px;width:22px;font-size:13px;line-height:20px;color:#002060;">o</div>
<div class="t b" style="left:810.4px;top:2767.8px;width:22px;font-size:13px;line-height:20px;color:#002060;">x</div>
<div class="t b" style="left:833.4px;top:2767.8px;width:22px;font-size:13px;line-height:20px;color:#002060;">x</div>
<div class="t b" style="left:1339.7px;top:2767.77px;width:21px;font-size:12.2px;line-height:20px;color:#0070c0;">6</div>
<div class="t b" style="left:1369.4px;top:2767.77px;width:60px;font-size:12.2px;line-height:20px;color:#0070c0;">4</div>
<div class="t b" style="left:1.4px;top:2847.84px;width:25px;font-size:12px;line-height:20px;color:#ff0000;">34</div>
<div class="t b" style="left:29.76px;top:2845.51px;width:258px;font-size:16.7px;line-height:24px;color:#974706;letter-spacing:-0.083px;">Langtudatinh9</div>
<div class="t b" style="left:627.9px;top:2847.8px;width:22px;font-size:13px;line-height:20px;color:#002060;">o</div>
<div class="t b" style="left:649.4px;top:2847.8px;width:22px;font-size:13px;line-height:20px;color:#002060;">x</div>
<div class="t b" style="left:672.4px;top:2847.8px;width:22px;font-size:13px;line-height:20px;color:#002060;">x</div>
<div class="t b" style="left:695.4px;top:2847.8px;width:22px;font-size:13px;line-height:20px;color:#002060;">o</div>
<div class="t b" style="left:718.4px;top:2847.8px;width:22px;font-size:13px;line-height:20px;color:#002060;">o</div>
<div class="t b" style="left:741.4px;top:2847.8px;width:22px;font-size:13px;line-height:20px;color:#002060;">o</div>
<div class="t b" style="left:764.4px;top:2847.8px;width:22px;font-size:13px;line-height:20px;color:#002060;">o</div>
<div class="t b" style="left:787.4px;top:2847.8px;width:22px;font-size:13px;line-height:20px;color:#002060;">x</div>
<div class="t b" style="left:810.4px;top:2847.8px;width:22px;font-size:13px;line-height:20px;color:#002060;">o</div>
<div class="t b" style="left:833.4px;top:2847.8px;width:22px;font-size:13px;line-height:20px;color:#002060;">o</div>
<div class="t b" style="left:1339.7px;top:2847.77px;width:21px;font-size:12.2px;line-height:20px;color:#0070c0;">7</div>
<div class="t b" style="left:1369.4px;top:2847.77px;width:60px;font-size:12.2px;line-height:20px;color:#0070c0;">3</div>
<div class="t b" style="left:1.4px;top:2927.84px;width:25px;font-size:12px;line-height:20px;color:#ff0000;">35</div>
<div class="t b" style="left:30.06px;top:2925.48px;width:258px;font-size:13.9px;line-height:24px;color:#000000;letter-spacing:0.125px;">TinyKhoai</div>
<div class="clip" style="left:290px;top:2897px;width:337px;height:78px;"><div class="nums" style="left:11.4px;top:0.84px;"><span style="letter-spacing:0.15px">Dàn 64 Số:</span>
20 21 22 23 24 25 26 27 28 30 32 35 36 37 40 42 45 46 48
50 51 52 53 54 55 57 58 59 60 61 62 63 64 65 66 67 68 69
70 71 72 73 74 75 76 77 78 79 80 81 82 83 84 85 86 87 88</div></div>
<div class="t b" style="left:695.4px;top:2927.8px;width:22px;font-size:13px;line-height:20px;color:#002060;">o</div>
<div class="t b" style="left:718.4px;top:2927.8px;width:22px;font-size:13px;line-height:20px;color:#002060;">o</div>
<div class="t b" style="left:741.4px;top:2927.8px;width:22px;font-size:13px;line-height:20px;color:#002060;">x</div>
<div class="t b" style="left:764.4px;top:2927.8px;width:22px;font-size:13px;line-height:20px;color:#002060;">x</div>
<div class="t b" style="left:787.4px;top:2927.8px;width:22px;font-size:13px;line-height:20px;color:#002060;">o</div>
<div class="t b" style="left:810.4px;top:2927.8px;width:22px;font-size:13px;line-height:20px;color:#002060;">o</div>
<div class="t b" style="left:833.4px;top:2927.8px;width:22px;font-size:13px;line-height:20px;color:#002060;">o</div>
<div class="t b" style="left:1339.7px;top:2927.77px;width:21px;font-size:12.2px;line-height:20px;color:#0070c0;">5</div>
<div class="t b" style="left:1369.4px;top:2927.77px;width:60px;font-size:12.2px;line-height:20px;color:#0070c0;">2</div>
<div class="t b" style="left:1.4px;top:3007.84px;width:25px;font-size:12px;line-height:20px;color:#ff0000;">36</div>
<div class="t b" style="left:29.28px;top:3005.51px;width:258px;font-size:16.7px;line-height:24px;color:#974706;letter-spacing:0.062px;">Duong1973</div>
<div class="clip" style="left:290px;top:2977px;width:337px;height:78px;"><div class="nums" style="left:11.4px;top:0.84px;"><span style="letter-spacing:0.15px">Dàn 58 Số:</span>
01 02 06 07 10 11 12 13 14 15 16 17 18 19 20 21 23 24 25
26 27 29 31 32 36 41 42 46 47 51 52 56 57 60 61 62 63 64
65 66 67 68 69 70 71 72 74 75 76 78 79 81 86 87 91 92 96</div></div>
<div class="t b" style="left:833.4px;top:3007.8px;width:22px;font-size:13px;line-height:20px;color:#002060;">x</div>
<div class="t b" style="left:1339.7px;top:3007.77px;width:21px;font-size:12.2px;line-height:20px;color:#0070c0;">0</div>
<div class="t b" style="left:1369.4px;top:3007.77px;width:60px;font-size:12.2px;line-height:20px;color:#0070c0;">1</div>
<div style="left:1px;top:227px;width:1435px;height:2px;background:#31869b;"></div>
<div style="left:290px;top:229px;width:1050px;height:1px;background:#31869b;"></div>
<div style="left:1px;top:323px;width:1435px;height:2px;background:#31869b;"></div>
<div style="left:290px;top:325px;width:1050px;height:1px;background:#31869b;"></div>
<div style="left:1px;top:415px;width:1435px;height:2px;background:#31869b;"></div>
<div style="left:290px;top:417px;width:1050px;height:1px;background:#31869b;"></div>
<div style="left:1px;top:495px;width:1435px;height:2px;background:#31869b;"></div>
<div style="left:290px;top:497px;width:1050px;height:1px;background:#31869b;"></div>
<div style="left:1px;top:575px;width:1435px;height:2px;background:#31869b;"></div>
<div style="left:290px;top:577px;width:1050px;height:1px;background:#31869b;"></div>
<div style="left:1px;top:655px;width:1435px;height:2px;background:#31869b;"></div>
<div style="left:290px;top:657px;width:1050px;height:1px;background:#31869b;"></div>
<div style="left:1px;top:735px;width:1435px;height:2px;background:#31869b;"></div>
<div style="left:290px;top:737px;width:1050px;height:1px;background:#31869b;"></div>
<div style="left:1px;top:815px;width:1435px;height:2px;background:#31869b;"></div>
<div style="left:290px;top:817px;width:1050px;height:1px;background:#31869b;"></div>
<div style="left:1px;top:895px;width:1435px;height:2px;background:#31869b;"></div>
<div style="left:290px;top:897px;width:1050px;height:1px;background:#31869b;"></div>
<div style="left:1px;top:975px;width:1435px;height:2px;background:#31869b;"></div>
<div style="left:290px;top:977px;width:1050px;height:1px;background:#31869b;"></div>
<div style="left:1px;top:1055px;width:1435px;height:2px;background:#31869b;"></div>
<div style="left:290px;top:1057px;width:1050px;height:1px;background:#31869b;"></div>
<div style="left:1px;top:1135px;width:1435px;height:2px;background:#31869b;"></div>
<div style="left:290px;top:1137px;width:1050px;height:1px;background:#31869b;"></div>
<div style="left:1px;top:1215px;width:1435px;height:2px;background:#31869b;"></div>
<div style="left:290px;top:1217px;width:1050px;height:1px;background:#31869b;"></div>
<div style="left:1px;top:1295px;width:1435px;height:2px;background:#31869b;"></div>
<div style="left:290px;top:1297px;width:1050px;height:1px;background:#31869b;"></div>
<div style="left:1px;top:1375px;width:1435px;height:2px;background:#31869b;"></div>
<div style="left:290px;top:1377px;width:1050px;height:1px;background:#31869b;"></div>
<div style="left:1px;top:1455px;width:1435px;height:2px;background:#31869b;"></div>
<div style="left:290px;top:1457px;width:1050px;height:1px;background:#31869b;"></div>
<div style="left:1px;top:1535px;width:1435px;height:2px;background:#31869b;"></div>
<div style="left:290px;top:1537px;width:1050px;height:1px;background:#31869b;"></div>
<div style="left:1px;top:1615px;width:1435px;height:2px;background:#31869b;"></div>
<div style="left:290px;top:1617px;width:1050px;height:1px;background:#31869b;"></div>
<div style="left:1px;top:1695px;width:1435px;height:2px;background:#31869b;"></div>
<div style="left:290px;top:1697px;width:1050px;height:1px;background:#31869b;"></div>
<div style="left:1px;top:1775px;width:1435px;height:2px;background:#31869b;"></div>
<div style="left:290px;top:1777px;width:1050px;height:1px;background:#31869b;"></div>
<div style="left:1px;top:1855px;width:1435px;height:2px;background:#31869b;"></div>
<div style="left:290px;top:1857px;width:1050px;height:1px;background:#31869b;"></div>
<div style="left:1px;top:1935px;width:1435px;height:2px;background:#31869b;"></div>
<div style="left:290px;top:1937px;width:1050px;height:1px;background:#31869b;"></div>
<div style="left:1px;top:2015px;width:1435px;height:2px;background:#31869b;"></div>
<div style="left:290px;top:2017px;width:1050px;height:1px;background:#31869b;"></div>
<div style="left:1px;top:2095px;width:1435px;height:2px;background:#31869b;"></div>
<div style="left:290px;top:2097px;width:1050px;height:1px;background:#31869b;"></div>
<div style="left:1px;top:2175px;width:1435px;height:2px;background:#31869b;"></div>
<div style="left:290px;top:2177px;width:1050px;height:1px;background:#31869b;"></div>
<div style="left:1px;top:2255px;width:1435px;height:2px;background:#31869b;"></div>
<div style="left:290px;top:2257px;width:1050px;height:1px;background:#31869b;"></div>
<div style="left:1px;top:2335px;width:1435px;height:2px;background:#31869b;"></div>
<div style="left:290px;top:2337px;width:1050px;height:1px;background:#31869b;"></div>
<div style="left:1px;top:2415px;width:1435px;height:2px;background:#31869b;"></div>
<div style="left:290px;top:2417px;width:1050px;height:1px;background:#31869b;"></div>
<div style="left:1px;top:2495px;width:1435px;height:2px;background:#31869b;"></div>
<div style="left:290px;top:2497px;width:1050px;height:1px;background:#31869b;"></div>
<div style="left:1px;top:2575px;width:1435px;height:2px;background:#31869b;"></div>
<div style="left:290px;top:2577px;width:1050px;height:1px;background:#31869b;"></div>
<div style="left:1px;top:2655px;width:1435px;height:2px;background:#31869b;"></div>
<div style="left:290px;top:2657px;width:1050px;height:1px;background:#31869b;"></div>
<div style="left:1px;top:2735px;width:1435px;height:2px;background:#31869b;"></div>
<div style="left:290px;top:2737px;width:1050px;height:1px;background:#31869b;"></div>
<div style="left:1px;top:2815px;width:1435px;height:2px;background:#31869b;"></div>
<div style="left:290px;top:2817px;width:1050px;height:1px;background:#31869b;"></div>
<div style="left:1px;top:2895px;width:1435px;height:2px;background:#31869b;"></div>
<div style="left:290px;top:2897px;width:1050px;height:1px;background:#31869b;"></div>
<div style="left:1px;top:2975px;width:1435px;height:2px;background:#31869b;"></div>
<div style="left:290px;top:2977px;width:1050px;height:1px;background:#31869b;"></div>
<div style="left:1px;top:3055px;width:1435px;height:2px;background:#31869b;"></div>
<div style="left:290px;top:3057px;width:1050px;height:1px;background:#31869b;"></div>
<svg width="289" height="90" viewBox="0 0 289 90" style="left:0;top:0"><defs><radialGradient id="gK" cx="0.58" cy="0.40" r="0.74"><stop offset="0" stop-color="#f23a34"/><stop offset="0.5" stop-color="#dc1820"/><stop offset="1" stop-color="#8a0a10"/></radialGradient><radialGradient id="gE" cx="0.58" cy="0.40" r="0.74"><stop offset="0" stop-color="#2e66d2"/><stop offset="0.5" stop-color="#1340a6"/><stop offset="1" stop-color="#061c62"/></radialGradient><radialGradient id="gT" cx="0.58" cy="0.40" r="0.74"><stop offset="0" stop-color="#fbc23a"/><stop offset="0.5" stop-color="#e79c18"/><stop offset="1" stop-color="#9c5e0c"/></radialGradient><radialGradient id="gQ" cx="0.58" cy="0.40" r="0.74"><stop offset="0" stop-color="#2a9a38"/><stop offset="0.5" stop-color="#127a24"/><stop offset="1" stop-color="#064a16"/></radialGradient><radialGradient id="gU" cx="0.58" cy="0.40" r="0.74"><stop offset="0" stop-color="#62aef0"/><stop offset="0.5" stop-color="#3684d6"/><stop offset="1" stop-color="#164e94"/></radialGradient><radialGradient id="gA" cx="0.58" cy="0.40" r="0.74"><stop offset="0" stop-color="#e682ec"/><stop offset="0.5" stop-color="#c04fd0"/><stop offset="1" stop-color="#682088"/></radialGradient><radialGradient id="g2" cx="0.58" cy="0.40" r="0.74"><stop offset="0" stop-color="#c8963a"/><stop offset="0.5" stop-color="#a06a14"/><stop offset="1" stop-color="#583204"/></radialGradient></defs><ellipse cx="18.3" cy="43.6" rx="17.900000000000002" ry="25.900000000000002" fill="#fff" opacity="0.7"/><ellipse cx="18.3" cy="43.6" rx="17.3" ry="25.3" fill="url(#gK)"/><path d="M0,0H6.6V13L11.8,0H19.2L12.6,15.2L19.8,33.5H12.4L8.3,21.5L6.6,25V33.5H0Z" transform="translate(8.5,27.3)" fill="#000" opacity="0.28" fill-rule="evenodd"/><path d="M0,0H6.6V13L11.8,0H19.2L12.6,15.2L19.8,33.5H12.4L8.3,21.5L6.6,25V33.5H0Z" transform="translate(7.4,26.3)" fill="#fff" fill-rule="evenodd"/><ellipse cx="45.3" cy="43.8" rx="17.900000000000002" ry="25.900000000000002" fill="#fff" opacity="0.7"/><ellipse cx="45.3" cy="43.8" rx="17.3" ry="25.3" fill="url(#gE)"/><path d="M0,0H17.6V6.2H6.6V13.4H15.6V19.6H6.6V27.3H17.6V33.5H0Z" transform="translate(37.7,27.5)" fill="#000" opacity="0.28" fill-rule="evenodd"/><path d="M0,0H17.6V6.2H6.6V13.4H15.6V19.6H6.6V27.3H17.6V33.5H0Z" transform="translate(36.6,26.5)" fill="#fff" fill-rule="evenodd"/><ellipse cx="73.8" cy="44.0" rx="17.900000000000002" ry="25.900000000000002" fill="#fff" opacity="0.7"/><ellipse cx="73.8" cy="44.0" rx="17.3" ry="25.3" fill="url(#gT)"/><path d="M0,0H20.5V6.2H13.6V33.5H6.9V6.2H0Z" transform="translate(65.1,27.7)" fill="#000" opacity="0.28" fill-rule="evenodd"/><path d="M0,0H20.5V6.2H13.6V33.5H6.9V6.2H0Z" transform="translate(64.0,26.7)" fill="#fff" fill-rule="evenodd"/><ellipse cx="102.0" cy="44.2" rx="17.900000000000002" ry="25.900000000000002" fill="#fff" opacity="0.7"/><ellipse cx="102.0" cy="44.2" rx="17.3" ry="25.3" fill="url(#gQ)"/><path d="M5,0H15.5Q20.5,0 20.5,5V27Q20.5,29.5 19.6,30.8L22.6,35.2L18.4,38L15.4,33.5H5Q0,33.5 0,28.5V5Q0,0 5,0ZM6.8,6.2V27.3H13.7V6.2Z" transform="translate(93.1,27.9)" fill="#000" opacity="0.28" fill-rule="evenodd"/><path d="M5,0H15.5Q20.5,0 20.5,5V27Q20.5,29.5 19.6,30.8L22.6,35.2L18.4,38L15.4,33.5H5Q0,33.5 0,28.5V5Q0,0 5,0ZM6.8,6.2V27.3H13.7V6.2Z" transform="translate(92.0,26.9)" fill="#fff" fill-rule="evenodd"/><ellipse cx="129.5" cy="44.4" rx="17.900000000000002" ry="25.900000000000002" fill="#fff" opacity="0.7"/><ellipse cx="129.5" cy="44.4" rx="17.3" ry="25.3" fill="url(#gU)"/><path d="M0,0H6.8V25.2Q6.8,27.3 10.6,27.3Q14.4,27.3 14.4,25.2V0H21.2V27Q21.2,33.5 10.6,33.5Q0,33.5 0,27Z" transform="translate(121.69999999999999,28.2)" fill="#000" opacity="0.28" fill-rule="evenodd"/><path d="M0,0H6.8V25.2Q6.8,27.3 10.6,27.3Q14.4,27.3 14.4,25.2V0H21.2V27Q21.2,33.5 10.6,33.5Q0,33.5 0,27Z" transform="translate(120.6,27.2)" fill="#fff" fill-rule="evenodd"/><ellipse cx="157.2" cy="44.6" rx="18.0" ry="25.5" fill="#fff" opacity="0.7"/><ellipse cx="157.2" cy="44.6" rx="17.4" ry="24.9" fill="url(#gA)"/><path d="M7.6,0H16.4L24,33.5H17L15.9,27.3H8.1L7,33.5H0ZM9.2,21.3H14.8L12,6.5Z" transform="translate(147.7,29.0)" fill="#000" opacity="0.28" fill-rule="evenodd"/><path d="M7.6,0H16.4L24,33.5H17L15.9,27.3H8.1L7,33.5H0ZM9.2,21.3H14.8L12,6.5Z" transform="translate(146.6,28.0)" fill="#fff" fill-rule="evenodd"/><ellipse cx="187.8" cy="45.3" rx="21.6" ry="25.5" fill="#fff" opacity="0.7"/><ellipse cx="187.8" cy="45.3" rx="21.0" ry="24.9" fill="url(#g2)"/><path d="M0,7Q0,0 7,0H13.4Q20.4,0 20.4,7V13Q20.4,17.5 15.5,18.8L8.2,20.8Q6.8,21.2 6.8,22.8V27.3H20.4V33.5H0V21Q0,16.4 4.9,15.1L12.2,13.1Q13.6,12.7 13.6,11.2V8Q13.6,6.2 11.8,6.2H8.6Q6.8,6.2 6.8,8V11.4H0Z" transform="translate(178.9,29.4)" fill="#000" opacity="0.28" fill-rule="evenodd"/><path d="M0,7Q0,0 7,0H13.4Q20.4,0 20.4,7V13Q20.4,17.5 15.5,18.8L8.2,20.8Q6.8,21.2 6.8,22.8V27.3H20.4V33.5H0V21Q0,16.4 4.9,15.1L12.2,13.1Q13.6,12.7 13.6,11.2V8Q13.6,6.2 11.8,6.2H8.6Q6.8,6.2 6.8,8V11.4H0Z" transform="translate(177.8,28.4)" fill="#fff" fill-rule="evenodd"/><path d="M216.8,18.4H278.2L283.7,23.6V39.7H216.8Z" fill="#e8192c"/><g transform="translate(220.9,37.2) skewX(-10) scale(0.6,1)"><text x="0" y="0" font-family="Liberation Sans, sans-serif" font-weight="bold" font-size="20.6" fill="#fff" letter-spacing="3.2" stroke="#fff" stroke-width="0.5">FORUM</text></g><text x="2.3" y="84.5" font-family="Liberation Sans, sans-serif" font-size="17.6" fill="#0a0a0a" stroke="#0a0a0a" stroke-width="0.3" textLength="38.6" lengthAdjust="spacingAndGlyphs">Trang</text><text x="48.1" y="84.5" font-family="Liberation Sans, sans-serif" font-size="17.6" fill="#0a0a0a" stroke="#0a0a0a" stroke-width="0.3" textLength="21.2" lengthAdjust="spacingAndGlyphs">kết</text><text x="75.3" y="84.5" font-family="Liberation Sans, sans-serif" font-size="17.6" fill="#0a0a0a" stroke="#0a0a0a" stroke-width="0.3" textLength="26.2" lengthAdjust="spacingAndGlyphs">quả</text><text x="107.4" y="84.5" font-family="Liberation Sans, sans-serif" font-size="17.6" fill="#0a0a0a" stroke="#0a0a0a" stroke-width="0.3" textLength="15.2" lengthAdjust="spacingAndGlyphs">xổ</text><text x="129.3" y="84.5" font-family="Liberation Sans, sans-serif" font-size="17.6" fill="#0a0a0a" stroke="#0a0a0a" stroke-width="0.3" textLength="14.9" lengthAdjust="spacingAndGlyphs">số</text><text x="151.8" y="84.5" font-family="Liberation Sans, sans-serif" font-size="17.6" fill="#0a0a0a" stroke="#0a0a0a" stroke-width="0.3" textLength="21.1" lengthAdjust="spacingAndGlyphs">lớn</text><text x="179.7" y="84.5" font-family="Liberation Sans, sans-serif" font-size="17.6" fill="#0a0a0a" stroke="#0a0a0a" stroke-width="0.3" textLength="31.9" lengthAdjust="spacingAndGlyphs">nhất</text><text x="216.9" y="84.5" font-family="Liberation Sans, sans-serif" font-size="17.6" fill="#0a0a0a" stroke="#0a0a0a" stroke-width="0.3" textLength="27.7" lengthAdjust="spacingAndGlyphs">Việt</text><text x="251.4" y="84.5" font-family="Liberation Sans, sans-serif" font-size="17.6" fill="#0a0a0a" stroke="#0a0a0a" stroke-width="0.3" textLength="31.8" lengthAdjust="spacingAndGlyphs">Nam</text></svg>
</div></body></html>
